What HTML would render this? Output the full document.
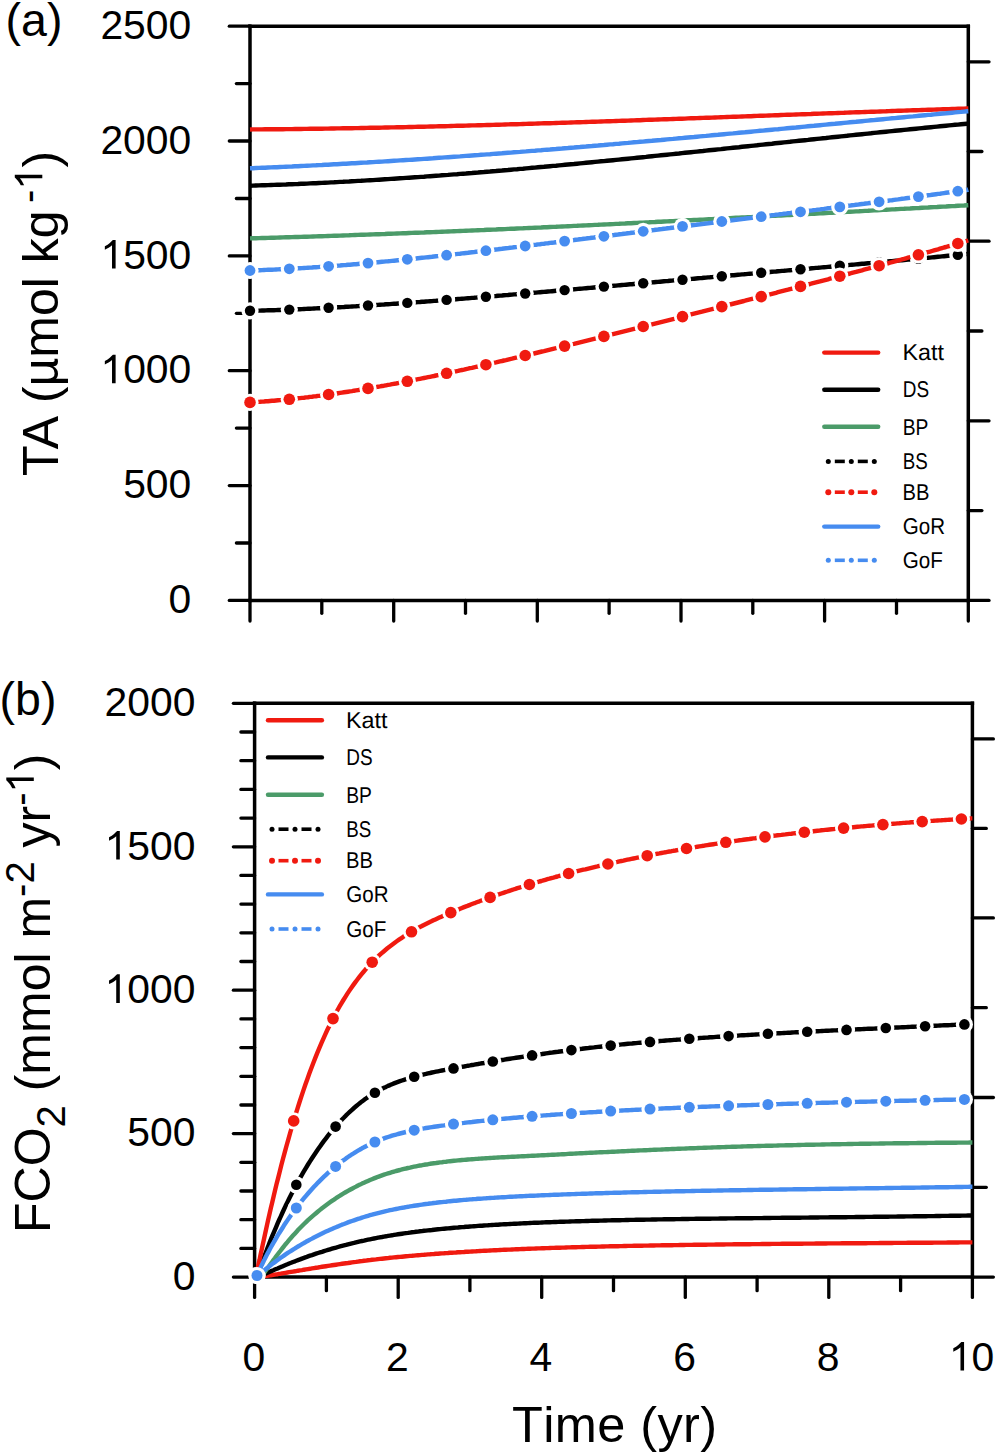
<!DOCTYPE html>
<html><head><meta charset="utf-8"><style>
html,body{margin:0;padding:0;background:#fff;}
svg{display:block;}
text{font-family:"Liberation Sans", sans-serif;fill:#000;font-kerning:none;}
</style></head><body>
<svg width="1000" height="1456" viewBox="0 0 1000 1456">
<rect width="1000" height="1456" fill="#fff"/>
<line x1="250" y1="26.2" x2="968.3" y2="26.2" stroke="#000" stroke-width="3.5" stroke-linecap="square"/>
<line x1="250" y1="26.2" x2="250" y2="600.4" stroke="#000" stroke-width="3.5" stroke-linecap="square"/>
<line x1="968.3" y1="26.2" x2="968.3" y2="600.4" stroke="#000" stroke-width="3.5" stroke-linecap="square"/>
<line x1="250" y1="600.4" x2="968.3" y2="600.4" stroke="#000" stroke-width="3.5" stroke-linecap="square"/>
<line x1="229.3" y1="600.4" x2="250" y2="600.4" stroke="#000" stroke-width="3.3" stroke-linecap="round"/>
<line x1="236.4" y1="543" x2="250" y2="543" stroke="#000" stroke-width="3.3" stroke-linecap="round"/>
<line x1="229.3" y1="485.6" x2="250" y2="485.6" stroke="#000" stroke-width="3.3" stroke-linecap="round"/>
<line x1="236.4" y1="428.1" x2="250" y2="428.1" stroke="#000" stroke-width="3.3" stroke-linecap="round"/>
<line x1="229.3" y1="370.7" x2="250" y2="370.7" stroke="#000" stroke-width="3.3" stroke-linecap="round"/>
<line x1="236.4" y1="313.3" x2="250" y2="313.3" stroke="#000" stroke-width="3.3" stroke-linecap="round"/>
<line x1="229.3" y1="255.9" x2="250" y2="255.9" stroke="#000" stroke-width="3.3" stroke-linecap="round"/>
<line x1="236.4" y1="198.5" x2="250" y2="198.5" stroke="#000" stroke-width="3.3" stroke-linecap="round"/>
<line x1="229.3" y1="141" x2="250" y2="141" stroke="#000" stroke-width="3.3" stroke-linecap="round"/>
<line x1="236.4" y1="83.6" x2="250" y2="83.6" stroke="#000" stroke-width="3.3" stroke-linecap="round"/>
<line x1="229.3" y1="26.2" x2="250" y2="26.2" stroke="#000" stroke-width="3.3" stroke-linecap="round"/>
<line x1="250" y1="600.4" x2="250" y2="621.1" stroke="#000" stroke-width="3.3" stroke-linecap="round"/>
<line x1="321.8" y1="600.4" x2="321.8" y2="613.3" stroke="#000" stroke-width="3.3" stroke-linecap="round"/>
<line x1="393.7" y1="600.4" x2="393.7" y2="621.1" stroke="#000" stroke-width="3.3" stroke-linecap="round"/>
<line x1="465.5" y1="600.4" x2="465.5" y2="613.3" stroke="#000" stroke-width="3.3" stroke-linecap="round"/>
<line x1="537.3" y1="600.4" x2="537.3" y2="621.1" stroke="#000" stroke-width="3.3" stroke-linecap="round"/>
<line x1="609.1" y1="600.4" x2="609.1" y2="613.3" stroke="#000" stroke-width="3.3" stroke-linecap="round"/>
<line x1="681" y1="600.4" x2="681" y2="621.1" stroke="#000" stroke-width="3.3" stroke-linecap="round"/>
<line x1="752.8" y1="600.4" x2="752.8" y2="613.3" stroke="#000" stroke-width="3.3" stroke-linecap="round"/>
<line x1="824.6" y1="600.4" x2="824.6" y2="621.1" stroke="#000" stroke-width="3.3" stroke-linecap="round"/>
<line x1="896.5" y1="600.4" x2="896.5" y2="613.3" stroke="#000" stroke-width="3.3" stroke-linecap="round"/>
<line x1="968.3" y1="600.4" x2="968.3" y2="621.1" stroke="#000" stroke-width="3.3" stroke-linecap="round"/>
<line x1="968.3" y1="600.4" x2="989" y2="600.4" stroke="#000" stroke-width="3.3" stroke-linecap="round"/>
<line x1="968.3" y1="510.6" x2="981.9" y2="510.6" stroke="#000" stroke-width="3.3" stroke-linecap="round"/>
<line x1="968.3" y1="420.8" x2="989" y2="420.8" stroke="#000" stroke-width="3.3" stroke-linecap="round"/>
<line x1="968.3" y1="331" x2="981.9" y2="331" stroke="#000" stroke-width="3.3" stroke-linecap="round"/>
<line x1="968.3" y1="241.2" x2="989" y2="241.2" stroke="#000" stroke-width="3.3" stroke-linecap="round"/>
<line x1="968.3" y1="151.5" x2="981.9" y2="151.5" stroke="#000" stroke-width="3.3" stroke-linecap="round"/>
<line x1="968.3" y1="61.8" x2="989" y2="61.8" stroke="#000" stroke-width="3.3" stroke-linecap="round"/>
<g transform="translate(191.3 613) scale(0.985 1)">
<text xml:space="preserve" x="-23.1" y="0" font-size="41.5">0</text>
</g>
<g transform="translate(191.3 498.2) scale(0.985 1)">
<text xml:space="preserve" x="-69.2" y="0" font-size="41.5">500</text>
</g>
<g transform="translate(191.3 383.3) scale(0.985 1)">
<path d="M763 0L583 0L583 1147Q518 1085 412.5 1023Q307 961 223 930L223 1104Q374 1175 472.5 1263Q571 1351 627 1409L763 1409Z" transform="translate(-92.3 0) scale(0.02026 -0.02026)"/>
<text xml:space="preserve" x="-69.2" y="0" font-size="41.5">000</text>
</g>
<g transform="translate(191.3 268.5) scale(0.985 1)">
<path d="M763 0L583 0L583 1147Q518 1085 412.5 1023Q307 961 223 930L223 1104Q374 1175 472.5 1263Q571 1351 627 1409L763 1409Z" transform="translate(-92.3 0) scale(0.02026 -0.02026)"/>
<text xml:space="preserve" x="-69.2" y="0" font-size="41.5">500</text>
</g>
<g transform="translate(191.3 153.6) scale(0.985 1)">
<text xml:space="preserve" x="-92.3" y="0" font-size="41.5">2000</text>
</g>
<g transform="translate(191.3 38.8) scale(0.985 1)">
<text xml:space="preserve" x="-92.3" y="0" font-size="41.5">2500</text>
</g>
<path d="M250 129.5L253 129.4L256 129.4L259 129.4L262 129.4L265 129.3L268 129.3L271 129.3L274 129.3L277 129.2L280 129.2L283 129.2L286 129.1L289 129.1L292 129.1L295 129L298 129L301 129L304 128.9L307 128.9L310 128.8L313 128.8L316 128.8L319 128.7L322 128.7L325 128.6L328 128.6L331 128.5L334 128.5L337 128.4L340 128.4L343 128.3L346 128.3L349 128.2L352 128.2L355 128.1L358 128.1L361 128L364 128L367 127.9L370 127.8L373 127.8L376 127.7L379 127.7L382 127.6L385 127.5L388 127.5L391 127.4L394 127.4L397 127.3L400 127.2L403 127.2L406 127.1L409 127L412 127L415 126.9L418 126.8L421 126.7L424 126.7L427 126.6L430 126.5L433 126.5L436 126.4L439 126.3L442 126.2L445 126.2L448 126.1L451 126L454 125.9L457 125.8L460 125.8L463 125.7L466 125.6L469 125.5L472 125.4L475 125.4L478 125.3L481 125.2L484 125.1L487 125L490 125L493 124.9L496 124.8L499 124.7L502 124.6L505 124.5L508 124.4L511 124.3L514 124.3L517 124.2L520 124.1L523 124L526 123.9L529 123.8L532 123.7L535 123.6L538 123.5L541 123.4L544 123.3L547 123.2L550 123.2L553 123.1L556 123L559 122.9L562 122.8L565 122.7L568 122.6L571 122.5L574 122.4L577 122.3L580 122.2L583 122.1L586 122L589 121.9L592 121.8L595 121.7L598 121.6L601 121.5L604 121.4L607 121.3L610 121.2L613 121.1L616 121L619 120.9L622 120.8L625 120.7L628 120.6L631 120.5L634 120.4L637 120.3L640 120.2L643 120L646 119.9L649 119.8L652 119.7L655 119.6L658 119.5L661 119.4L664 119.3L667 119.2L670 119.1L673 119L676 118.9L679 118.8L682 118.7L685 118.6L688 118.4L691 118.3L694 118.2L697 118.1L700 118L703 117.9L706 117.8L709 117.7L712 117.6L715 117.5L718 117.4L721 117.2L724 117.1L727 117L730 116.9L733 116.8L736 116.7L739 116.6L742 116.5L745 116.4L748 116.3L751 116.2L754 116L757 115.9L760 115.8L763 115.7L766 115.6L769 115.5L772 115.4L775 115.3L778 115.2L781 115L784 114.9L787 114.8L790 114.7L793 114.6L796 114.5L799 114.4L802 114.3L805 114.2L808 114.1L811 114L814 113.8L817 113.7L820 113.6L823 113.5L826 113.4L829 113.3L832 113.2L835 113.1L838 113L841 112.9L844 112.8L847 112.6L850 112.5L853 112.4L856 112.3L859 112.2L862 112.1L865 112L868 111.9L871 111.8L874 111.7L877 111.6L880 111.5L883 111.4L886 111.3L889 111.1L892 111L895 110.9L898 110.8L901 110.7L904 110.6L907 110.5L910 110.4L913 110.3L916 110.2L919 110.1L922 110L925 109.9L928 109.8L931 109.7L934 109.6L937 109.5L940 109.4L943 109.3L946 109.2L949 109.1L952 109L955 108.9L958 108.8L961 108.7L964 108.6L967 108.5L968.3 108.5" fill="none" stroke="#F01A10" stroke-width="4.4" stroke-linejoin="round" stroke-linecap="butt"/>
<path d="M250 185.7L253 185.6L256 185.5L259 185.4L262 185.3L265 185.2L268 185.1L271 185L274 184.9L277 184.8L280 184.7L283 184.6L286 184.5L289 184.3L292 184.2L295 184.1L298 184L301 183.8L304 183.7L307 183.6L310 183.4L313 183.3L316 183.2L319 183L322 182.9L325 182.7L328 182.6L331 182.4L334 182.3L337 182.1L340 181.9L343 181.8L346 181.6L349 181.5L352 181.3L355 181.1L358 180.9L361 180.8L364 180.6L367 180.4L370 180.2L373 180.1L376 179.9L379 179.7L382 179.5L385 179.3L388 179.1L391 178.9L394 178.7L397 178.5L400 178.3L403 178.1L406 177.9L409 177.7L412 177.5L415 177.3L418 177.1L421 176.9L424 176.7L427 176.4L430 176.2L433 176L436 175.8L439 175.6L442 175.3L445 175.1L448 174.9L451 174.6L454 174.4L457 174.2L460 173.9L463 173.7L466 173.5L469 173.2L472 173L475 172.7L478 172.5L481 172.2L484 172L487 171.7L490 171.5L493 171.2L496 171L499 170.7L502 170.5L505 170.2L508 170L511 169.7L514 169.4L517 169.2L520 168.9L523 168.7L526 168.4L529 168.1L532 167.8L535 167.6L538 167.3L541 167L544 166.8L547 166.5L550 166.2L553 165.9L556 165.7L559 165.4L562 165.1L565 164.8L568 164.5L571 164.2L574 164L577 163.7L580 163.4L583 163.1L586 162.8L589 162.5L592 162.2L595 161.9L598 161.6L601 161.3L604 161.1L607 160.8L610 160.5L613 160.2L616 159.9L619 159.6L622 159.3L625 159L628 158.7L631 158.4L634 158.1L637 157.8L640 157.5L643 157.2L646 156.9L649 156.5L652 156.2L655 155.9L658 155.6L661 155.3L664 155L667 154.7L670 154.4L673 154.1L676 153.8L679 153.5L682 153.1L685 152.8L688 152.5L691 152.2L694 151.9L697 151.6L700 151.3L703 151L706 150.6L709 150.3L712 150L715 149.7L718 149.4L721 149.1L724 148.7L727 148.4L730 148.1L733 147.8L736 147.5L739 147.2L742 146.8L745 146.5L748 146.2L751 145.9L754 145.6L757 145.3L760 144.9L763 144.6L766 144.3L769 144L772 143.7L775 143.3L778 143L781 142.7L784 142.4L787 142.1L790 141.8L793 141.4L796 141.1L799 140.8L802 140.5L805 140.2L808 139.9L811 139.5L814 139.2L817 138.9L820 138.6L823 138.3L826 138L829 137.6L832 137.3L835 137L838 136.7L841 136.4L844 136.1L847 135.8L850 135.4L853 135.1L856 134.8L859 134.5L862 134.2L865 133.9L868 133.6L871 133.3L874 132.9L877 132.6L880 132.3L883 132L886 131.7L889 131.4L892 131.1L895 130.8L898 130.5L901 130.2L904 129.9L907 129.6L910 129.3L913 129L916 128.7L919 128.4L922 128.1L925 127.8L928 127.5L931 127.2L934 126.9L937 126.6L940 126.3L943 126L946 125.7L949 125.4L952 125.1L955 124.8L958 124.6L961 124.3L964 124L967 123.7L968.3 123.6" fill="none" stroke="#000000" stroke-width="4.4" stroke-linejoin="round" stroke-linecap="butt"/>
<path d="M250 238.4L253 238.3L256 238.2L259 238.1L262 238L265 238L268 237.9L271 237.8L274 237.7L277 237.6L280 237.5L283 237.4L286 237.3L289 237.2L292 237.1L295 237L298 237L301 236.9L304 236.8L307 236.7L310 236.6L313 236.5L316 236.4L319 236.3L322 236.2L325 236.1L328 236L331 235.9L334 235.8L337 235.7L340 235.6L343 235.5L346 235.4L349 235.3L352 235.1L355 235L358 234.9L361 234.8L364 234.7L367 234.6L370 234.5L373 234.4L376 234.3L379 234.2L382 234.1L385 234L388 233.8L391 233.7L394 233.6L397 233.5L400 233.4L403 233.3L406 233.2L409 233L412 232.9L415 232.8L418 232.7L421 232.6L424 232.5L427 232.3L430 232.2L433 232.1L436 232L439 231.9L442 231.7L445 231.6L448 231.5L451 231.4L454 231.2L457 231.1L460 231L463 230.9L466 230.7L469 230.6L472 230.5L475 230.4L478 230.2L481 230.1L484 230L487 229.8L490 229.7L493 229.6L496 229.5L499 229.3L502 229.2L505 229.1L508 228.9L511 228.8L514 228.7L517 228.5L520 228.4L523 228.3L526 228.1L529 228L532 227.9L535 227.7L538 227.6L541 227.5L544 227.3L547 227.2L550 227L553 226.9L556 226.8L559 226.6L562 226.5L565 226.4L568 226.2L571 226.1L574 225.9L577 225.8L580 225.6L583 225.5L586 225.4L589 225.2L592 225.1L595 224.9L598 224.8L601 224.6L604 224.5L607 224.4L610 224.2L613 224.1L616 223.9L619 223.8L622 223.6L625 223.5L628 223.3L631 223.2L634 223L637 222.9L640 222.7L643 222.6L646 222.4L649 222.3L652 222.1L655 222L658 221.8L661 221.7L664 221.5L667 221.4L670 221.2L673 221.1L676 220.9L679 220.8L682 220.6L685 220.5L688 220.3L691 220.2L694 220L697 219.9L700 219.7L703 219.6L706 219.4L709 219.2L712 219.1L715 218.9L718 218.8L721 218.6L724 218.5L727 218.3L730 218.2L733 218L736 217.8L739 217.7L742 217.5L745 217.4L748 217.2L751 217.1L754 216.9L757 216.7L760 216.6L763 216.4L766 216.3L769 216.1L772 215.9L775 215.8L778 215.6L781 215.5L784 215.3L787 215.1L790 215L793 214.8L796 214.7L799 214.5L802 214.3L805 214.2L808 214L811 213.9L814 213.7L817 213.5L820 213.4L823 213.2L826 213L829 212.9L832 212.7L835 212.6L838 212.4L841 212.2L844 212.1L847 211.9L850 211.7L853 211.6L856 211.4L859 211.3L862 211.1L865 210.9L868 210.8L871 210.6L874 210.4L877 210.3L880 210.1L883 209.9L886 209.8L889 209.6L892 209.4L895 209.3L898 209.1L901 208.9L904 208.8L907 208.6L910 208.5L913 208.3L916 208.1L919 208L922 207.8L925 207.6L928 207.5L931 207.3L934 207.1L937 207L940 206.8L943 206.6L946 206.5L949 206.3L952 206.1L955 206L958 205.8L961 205.6L964 205.5L967 205.3L968.3 205.2" fill="none" stroke="#4B9B69" stroke-width="4.4" stroke-linejoin="round" stroke-linecap="butt"/>
<path d="M250 310.8L252 310.8L254 310.7L256 310.7L258 310.6L260 310.6L262 310.5L264 310.5L266 310.4L268 310.3L270 310.3L272 310.2L274 310.2L276 310.1L278 310L280 310L282 309.9L284 309.8L286 309.7L288 309.7L290 309.6L292 309.5L294 309.4L296 309.3L298 309.2L300 309.2L302 309.1L304 309L306 308.9L308 308.8L310 308.7L312 308.6L314 308.5L316 308.4L318 308.3L320 308.2L322 308.1L324 308L326 307.9L328 307.8L330 307.7L332 307.6L334 307.5L336 307.4L338 307.3L340 307.2L342 307.1L344 307L346 306.8L348 306.7L350 306.6L352 306.5L354 306.4L356 306.3L358 306.1L360 306L362 305.9L364 305.8L366 305.6L368 305.5L370 305.4L372 305.3L374 305.1L376 305L378 304.9L380 304.7L382 304.6L384 304.5L386 304.3L388 304.2L390 304.1L392 303.9L394 303.8L396 303.7L398 303.5L400 303.4L402 303.2L404 303.1L406 303L408 302.8L410 302.7L412 302.5L414 302.4L416 302.2L418 302.1L420 302L422 301.8L424 301.7L426 301.5L428 301.4L430 301.2L432 301.1L434 300.9L436 300.8L438 300.6L440 300.4L442 300.3L444 300.1L446 300L448 299.8L450 299.7L452 299.5L454 299.4L456 299.2L458 299L460 298.9L462 298.7L464 298.6L466 298.4L468 298.2L470 298.1L472 297.9L474 297.8L476 297.6L478 297.4L480 297.3L482 297.1L484 296.9L486 296.8L488 296.6L490 296.5L492 296.3L494 296.1L496 296L498 295.8L500 295.6L502 295.5L504 295.3L506 295.1L508 295L510 294.8L512 294.6L514 294.4L516 294.3L518 294.1L520 293.9L522 293.8L524 293.6L526 293.4L528 293.3L530 293.1L532 292.9L534 292.7L536 292.6L538 292.4L540 292.2L542 292L544 291.9L546 291.7L548 291.5L550 291.4L552 291.2L554 291L556 290.8L558 290.7L560 290.5L562 290.3L564 290.1L566 290L568 289.8L570 289.6L572 289.4L574 289.3L576 289.1L578 288.9L580 288.7L582 288.6L584 288.4L586 288.2L588 288L590 287.9L592 287.7L594 287.5L596 287.3L598 287.2L600 287L602 286.8L604 286.6L606 286.5L608 286.3L610 286.1L612 285.9L614 285.7L616 285.6L618 285.4L620 285.2L622 285L624 284.9L626 284.7L628 284.5L630 284.3L632 284.2L634 284L636 283.8L638 283.6L640 283.4L642 283.3L644 283.1L646 282.9L648 282.7L650 282.6L652 282.4L654 282.2L656 282L658 281.9L660 281.7L662 281.5L664 281.3L666 281.1L668 281L670 280.8L672 280.6L674 280.4L676 280.3L678 280.1L680 279.9L682 279.7L684 279.6L686 279.4L688 279.2L690 279L692 278.9L694 278.7L696 278.5L698 278.3L700 278.1L702 278L704 277.8L706 277.6L708 277.4L710 277.3L712 277.1L714 276.9L716 276.7L718 276.6L720 276.4L722 276.2L724 276L726 275.9L728 275.7L730 275.5L732 275.3L734 275.2L736 275L738 274.8L740 274.6L742 274.4L744 274.3L746 274.1L748 273.9L750 273.7L752 273.6L754 273.4L756 273.2L758 273L760 272.9L762 272.7L764 272.5L766 272.3L768 272.2L770 272L772 271.8L774 271.6L776 271.5L778 271.3L780 271.1L782 270.9L784 270.8L786 270.6L788 270.4L790 270.2L792 270.1L794 269.9L796 269.7L798 269.5L800 269.3L802 269.2L804 269L806 268.8L808 268.6L810 268.5L812 268.3L814 268.1L816 267.9L818 267.8L820 267.6L822 267.4L824 267.2L826 267.1L828 266.9L830 266.7L832 266.5L834 266.3L836 266.2L838 266L840 265.8L842 265.6L844 265.5L846 265.3L848 265.1L850 264.9L852 264.7L854 264.6L856 264.4L858 264.2L860 264L862 263.8L864 263.7L866 263.5L868 263.3L870 263.1L872 262.9L874 262.8L876 262.6L878 262.4L880 262.2L882 262L884 261.8L886 261.7L888 261.5L890 261.3L892 261.1L894 260.9L896 260.7L898 260.6L900 260.4L902 260.2L904 260L906 259.8L908 259.6L910 259.5L912 259.3L914 259.1L916 258.9L918 258.7L920 258.5L922 258.3L924 258.1L926 257.9L928 257.8L930 257.6L932 257.4L934 257.2L936 257L938 256.8L940 256.6L942 256.4L944 256.2L946 256L948 255.8L950 255.6L952 255.4L954 255.3L956 255.1L958 254.9L960 254.7L962 254.5L964 254.3L966 254.1L968 253.9L968.3 253.8" fill="none" stroke="#000000" stroke-width="4.4" stroke-linejoin="round" stroke-linecap="butt"/>
<circle cx="250" cy="310.8" r="8.6" fill="#fff"/>
<circle cx="250" cy="310.8" r="5.2" fill="#000000"/>
<circle cx="289.3" cy="309.6" r="8.6" fill="#fff"/>
<circle cx="289.3" cy="309.6" r="5.2" fill="#000000"/>
<circle cx="328.6" cy="307.8" r="8.6" fill="#fff"/>
<circle cx="328.6" cy="307.8" r="5.2" fill="#000000"/>
<circle cx="368" cy="305.5" r="8.6" fill="#fff"/>
<circle cx="368" cy="305.5" r="5.2" fill="#000000"/>
<circle cx="407.3" cy="302.9" r="8.6" fill="#fff"/>
<circle cx="407.3" cy="302.9" r="5.2" fill="#000000"/>
<circle cx="446.6" cy="299.9" r="8.6" fill="#fff"/>
<circle cx="446.6" cy="299.9" r="5.2" fill="#000000"/>
<circle cx="485.9" cy="296.8" r="8.6" fill="#fff"/>
<circle cx="485.9" cy="296.8" r="5.2" fill="#000000"/>
<circle cx="525.2" cy="293.5" r="8.6" fill="#fff"/>
<circle cx="525.2" cy="293.5" r="5.2" fill="#000000"/>
<circle cx="564.6" cy="290.1" r="8.6" fill="#fff"/>
<circle cx="564.6" cy="290.1" r="5.2" fill="#000000"/>
<circle cx="603.9" cy="286.6" r="8.6" fill="#fff"/>
<circle cx="603.9" cy="286.6" r="5.2" fill="#000000"/>
<circle cx="643.2" cy="283.2" r="8.6" fill="#fff"/>
<circle cx="643.2" cy="283.2" r="5.2" fill="#000000"/>
<circle cx="682.5" cy="279.7" r="8.6" fill="#fff"/>
<circle cx="682.5" cy="279.7" r="5.2" fill="#000000"/>
<circle cx="721.8" cy="276.2" r="8.6" fill="#fff"/>
<circle cx="721.8" cy="276.2" r="5.2" fill="#000000"/>
<circle cx="761.2" cy="272.8" r="8.6" fill="#fff"/>
<circle cx="761.2" cy="272.8" r="5.2" fill="#000000"/>
<circle cx="800.5" cy="269.3" r="8.6" fill="#fff"/>
<circle cx="800.5" cy="269.3" r="5.2" fill="#000000"/>
<circle cx="839.8" cy="265.8" r="8.6" fill="#fff"/>
<circle cx="839.8" cy="265.8" r="5.2" fill="#000000"/>
<circle cx="879.1" cy="262.3" r="8.6" fill="#fff"/>
<circle cx="879.1" cy="262.3" r="5.2" fill="#000000"/>
<circle cx="918.4" cy="258.7" r="8.6" fill="#fff"/>
<circle cx="918.4" cy="258.7" r="5.2" fill="#000000"/>
<circle cx="957.8" cy="254.9" r="8.6" fill="#fff"/>
<circle cx="957.8" cy="254.9" r="5.2" fill="#000000"/>
<path d="M250 402.4L252 402.3L254 402.1L256 402L258 401.9L260 401.8L262 401.6L264 401.5L266 401.3L268 401.2L270 401L272 400.8L274 400.7L276 400.5L278 400.3L280 400.1L282 400L284 399.8L286 399.6L288 399.4L290 399.2L292 399L294 398.8L296 398.6L298 398.3L300 398.1L302 397.9L304 397.7L306 397.4L308 397.2L310 396.9L312 396.7L314 396.4L316 396.2L318 395.9L320 395.7L322 395.4L324 395.1L326 394.9L328 394.6L330 394.3L332 394L334 393.8L336 393.5L338 393.2L340 392.9L342 392.6L344 392.3L346 392L348 391.7L350 391.4L352 391.1L354 390.7L356 390.4L358 390.1L360 389.8L362 389.4L364 389.1L366 388.8L368 388.4L370 388.1L372 387.8L374 387.4L376 387.1L378 386.7L380 386.4L382 386L384 385.7L386 385.3L388 384.9L390 384.6L392 384.2L394 383.8L396 383.5L398 383.1L400 382.7L402 382.3L404 381.9L406 381.6L408 381.2L410 380.8L412 380.4L414 380L416 379.6L418 379.2L420 378.8L422 378.4L424 378L426 377.6L428 377.2L430 376.8L432 376.4L434 376L436 375.5L438 375.1L440 374.7L442 374.3L444 373.9L446 373.4L448 373L450 372.6L452 372.2L454 371.7L456 371.3L458 370.9L460 370.4L462 370L464 369.6L466 369.1L468 368.7L470 368.2L472 367.8L474 367.3L476 366.9L478 366.5L480 366L482 365.6L484 365.1L486 364.6L488 364.2L490 363.7L492 363.3L494 362.8L496 362.4L498 361.9L500 361.4L502 361L504 360.5L506 360.1L508 359.6L510 359.1L512 358.7L514 358.2L516 357.7L518 357.3L520 356.8L522 356.3L524 355.8L526 355.4L528 354.9L530 354.4L532 353.9L534 353.5L536 353L538 352.5L540 352L542 351.5L544 351.1L546 350.6L548 350.1L550 349.6L552 349.1L554 348.6L556 348.2L558 347.7L560 347.2L562 346.7L564 346.2L566 345.7L568 345.2L570 344.7L572 344.2L574 343.8L576 343.3L578 342.8L580 342.3L582 341.8L584 341.3L586 340.8L588 340.3L590 339.8L592 339.3L594 338.8L596 338.3L598 337.8L600 337.3L602 336.8L604 336.3L606 335.8L608 335.3L610 334.8L612 334.3L614 333.8L616 333.3L618 332.8L620 332.3L622 331.8L624 331.3L626 330.8L628 330.3L630 329.8L632 329.3L634 328.8L636 328.3L638 327.8L640 327.3L642 326.8L644 326.3L646 325.8L648 325.3L650 324.8L652 324.3L654 323.8L656 323.3L658 322.8L660 322.3L662 321.8L664 321.3L666 320.8L668 320.3L670 319.8L672 319.3L674 318.8L676 318.2L678 317.7L680 317.2L682 316.7L684 316.2L686 315.7L688 315.2L690 314.7L692 314.2L694 313.7L696 313.2L698 312.7L700 312.2L702 311.7L704 311.1L706 310.6L708 310.1L710 309.6L712 309.1L714 308.6L716 308.1L718 307.6L720 307.1L722 306.6L724 306.1L726 305.6L728 305L730 304.5L732 304L734 303.5L736 303L738 302.5L740 302L742 301.5L744 301L746 300.4L748 299.9L750 299.4L752 298.9L754 298.4L756 297.9L758 297.4L760 296.9L762 296.3L764 295.8L766 295.3L768 294.8L770 294.3L772 293.8L774 293.3L776 292.8L778 292.2L780 291.7L782 291.2L784 290.7L786 290.2L788 289.7L790 289.1L792 288.6L794 288.1L796 287.6L798 287.1L800 286.6L802 286L804 285.5L806 285L808 284.5L810 284L812 283.4L814 282.9L816 282.4L818 281.9L820 281.4L822 280.8L824 280.3L826 279.8L828 279.3L830 278.7L832 278.2L834 277.7L836 277.2L838 276.6L840 276.1L842 275.6L844 275.1L846 274.5L848 274L850 273.5L852 272.9L854 272.4L856 271.9L858 271.3L860 270.8L862 270.3L864 269.7L866 269.2L868 268.7L870 268.1L872 267.6L874 267L876 266.5L878 266L880 265.4L882 264.9L884 264.3L886 263.8L888 263.3L890 262.7L892 262.2L894 261.6L896 261.1L898 260.5L900 260L902 259.4L904 258.9L906 258.3L908 257.7L910 257.2L912 256.6L914 256.1L916 255.5L918 255L920 254.4L922 253.8L924 253.3L926 252.7L928 252.1L930 251.6L932 251L934 250.4L936 249.8L938 249.3L940 248.7L942 248.1L944 247.5L946 247L948 246.4L950 245.8L952 245.2L954 244.6L956 244L958 243.4L960 242.9L962 242.3L964 241.7L966 241.1L968 240.5L968.3 240.4" fill="none" stroke="#F01A10" stroke-width="4.4" stroke-linejoin="round" stroke-linecap="butt"/>
<circle cx="250" cy="402.4" r="8.6" fill="#fff"/>
<circle cx="250" cy="402.4" r="5.8" fill="#F01A10"/>
<circle cx="289.3" cy="399.3" r="8.6" fill="#fff"/>
<circle cx="289.3" cy="399.3" r="5.8" fill="#F01A10"/>
<circle cx="328.6" cy="394.5" r="8.6" fill="#fff"/>
<circle cx="328.6" cy="394.5" r="5.8" fill="#F01A10"/>
<circle cx="368" cy="388.4" r="8.6" fill="#fff"/>
<circle cx="368" cy="388.4" r="5.8" fill="#F01A10"/>
<circle cx="407.3" cy="381.3" r="8.6" fill="#fff"/>
<circle cx="407.3" cy="381.3" r="5.8" fill="#F01A10"/>
<circle cx="446.6" cy="373.3" r="8.6" fill="#fff"/>
<circle cx="446.6" cy="373.3" r="5.8" fill="#F01A10"/>
<circle cx="485.9" cy="364.7" r="8.6" fill="#fff"/>
<circle cx="485.9" cy="364.7" r="5.8" fill="#F01A10"/>
<circle cx="525.2" cy="355.5" r="8.6" fill="#fff"/>
<circle cx="525.2" cy="355.5" r="5.8" fill="#F01A10"/>
<circle cx="564.6" cy="346.1" r="8.6" fill="#fff"/>
<circle cx="564.6" cy="346.1" r="5.8" fill="#F01A10"/>
<circle cx="603.9" cy="336.4" r="8.6" fill="#fff"/>
<circle cx="603.9" cy="336.4" r="5.8" fill="#F01A10"/>
<circle cx="643.2" cy="326.5" r="8.6" fill="#fff"/>
<circle cx="643.2" cy="326.5" r="5.8" fill="#F01A10"/>
<circle cx="682.5" cy="316.6" r="8.6" fill="#fff"/>
<circle cx="682.5" cy="316.6" r="5.8" fill="#F01A10"/>
<circle cx="721.8" cy="306.6" r="8.6" fill="#fff"/>
<circle cx="721.8" cy="306.6" r="5.8" fill="#F01A10"/>
<circle cx="761.2" cy="296.6" r="8.6" fill="#fff"/>
<circle cx="761.2" cy="296.6" r="5.8" fill="#F01A10"/>
<circle cx="800.5" cy="286.4" r="8.6" fill="#fff"/>
<circle cx="800.5" cy="286.4" r="5.8" fill="#F01A10"/>
<circle cx="839.8" cy="276.2" r="8.6" fill="#fff"/>
<circle cx="839.8" cy="276.2" r="5.8" fill="#F01A10"/>
<circle cx="879.1" cy="265.7" r="8.6" fill="#fff"/>
<circle cx="879.1" cy="265.7" r="5.8" fill="#F01A10"/>
<circle cx="918.4" cy="254.8" r="8.6" fill="#fff"/>
<circle cx="918.4" cy="254.8" r="5.8" fill="#F01A10"/>
<circle cx="957.8" cy="243.5" r="8.6" fill="#fff"/>
<circle cx="957.8" cy="243.5" r="5.8" fill="#F01A10"/>
<path d="M250 168.3L253 168.2L256 168L259 167.9L262 167.8L265 167.7L268 167.5L271 167.4L274 167.3L277 167.2L280 167L283 166.9L286 166.7L289 166.6L292 166.5L295 166.3L298 166.2L301 166L304 165.9L307 165.7L310 165.6L313 165.4L316 165.3L319 165.1L322 165L325 164.8L328 164.7L331 164.5L334 164.3L337 164.2L340 164L343 163.8L346 163.7L349 163.5L352 163.3L355 163.2L358 163L361 162.8L364 162.6L367 162.5L370 162.3L373 162.1L376 161.9L379 161.7L382 161.6L385 161.4L388 161.2L391 161L394 160.8L397 160.6L400 160.4L403 160.2L406 160L409 159.9L412 159.7L415 159.5L418 159.3L421 159.1L424 158.9L427 158.7L430 158.5L433 158.3L436 158L439 157.8L442 157.6L445 157.4L448 157.2L451 157L454 156.8L457 156.6L460 156.4L463 156.1L466 155.9L469 155.7L472 155.5L475 155.3L478 155.1L481 154.8L484 154.6L487 154.4L490 154.2L493 153.9L496 153.7L499 153.5L502 153.3L505 153L508 152.8L511 152.6L514 152.3L517 152.1L520 151.9L523 151.6L526 151.4L529 151.1L532 150.9L535 150.7L538 150.4L541 150.2L544 149.9L547 149.7L550 149.5L553 149.2L556 149L559 148.7L562 148.5L565 148.2L568 148L571 147.7L574 147.5L577 147.2L580 147L583 146.7L586 146.5L589 146.2L592 146L595 145.7L598 145.5L601 145.2L604 145L607 144.7L610 144.4L613 144.2L616 143.9L619 143.7L622 143.4L625 143.1L628 142.9L631 142.6L634 142.3L637 142.1L640 141.8L643 141.6L646 141.3L649 141L652 140.8L655 140.5L658 140.2L661 140L664 139.7L667 139.4L670 139.1L673 138.9L676 138.6L679 138.3L682 138.1L685 137.8L688 137.5L691 137.2L694 137L697 136.7L700 136.4L703 136.1L706 135.9L709 135.6L712 135.3L715 135L718 134.8L721 134.5L724 134.2L727 133.9L730 133.6L733 133.4L736 133.1L739 132.8L742 132.5L745 132.3L748 132L751 131.7L754 131.4L757 131.1L760 130.8L763 130.6L766 130.3L769 130L772 129.7L775 129.4L778 129.2L781 128.9L784 128.6L787 128.3L790 128L793 127.7L796 127.5L799 127.2L802 126.9L805 126.6L808 126.3L811 126L814 125.8L817 125.5L820 125.2L823 124.9L826 124.6L829 124.3L832 124L835 123.8L838 123.5L841 123.2L844 122.9L847 122.6L850 122.3L853 122L856 121.8L859 121.5L862 121.2L865 120.9L868 120.6L871 120.3L874 120.1L877 119.8L880 119.5L883 119.2L886 118.9L889 118.6L892 118.3L895 118.1L898 117.8L901 117.5L904 117.2L907 116.9L910 116.6L913 116.4L916 116.1L919 115.8L922 115.5L925 115.2L928 114.9L931 114.7L934 114.4L937 114.1L940 113.8L943 113.5L946 113.3L949 113L952 112.7L955 112.4L958 112.1L961 111.9L964 111.6L967 111.3L968.3 111.2" fill="none" stroke="#468CF0" stroke-width="4.4" stroke-linejoin="round" stroke-linecap="butt"/>
<path d="M250 270.5L252 270.4L254 270.4L256 270.3L258 270.2L260 270.2L262 270.1L264 270L266 269.9L268 269.8L270 269.8L272 269.7L274 269.6L276 269.5L278 269.4L280 269.3L282 269.2L284 269.1L286 269L288 268.9L290 268.8L292 268.7L294 268.6L296 268.5L298 268.3L300 268.2L302 268.1L304 268L306 267.9L308 267.7L310 267.6L312 267.5L314 267.3L316 267.2L318 267.1L320 266.9L322 266.8L324 266.7L326 266.5L328 266.4L330 266.2L332 266.1L334 265.9L336 265.8L338 265.6L340 265.5L342 265.3L344 265.1L346 265L348 264.8L350 264.7L352 264.5L354 264.3L356 264.2L358 264L360 263.8L362 263.6L364 263.5L366 263.3L368 263.1L370 262.9L372 262.7L374 262.6L376 262.4L378 262.2L380 262L382 261.8L384 261.6L386 261.4L388 261.3L390 261.1L392 260.9L394 260.7L396 260.5L398 260.3L400 260.1L402 259.9L404 259.7L406 259.5L408 259.3L410 259.1L412 258.9L414 258.7L416 258.5L418 258.2L420 258L422 257.8L424 257.6L426 257.4L428 257.2L430 257L432 256.8L434 256.5L436 256.3L438 256.1L440 255.9L442 255.7L444 255.5L446 255.2L448 255L450 254.8L452 254.6L454 254.3L456 254.1L458 253.9L460 253.7L462 253.4L464 253.2L466 253L468 252.8L470 252.5L472 252.3L474 252.1L476 251.8L478 251.6L480 251.4L482 251.1L484 250.9L486 250.7L488 250.4L490 250.2L492 250L494 249.7L496 249.5L498 249.3L500 249L502 248.8L504 248.5L506 248.3L508 248.1L510 247.8L512 247.6L514 247.3L516 247.1L518 246.9L520 246.6L522 246.4L524 246.1L526 245.9L528 245.6L530 245.4L532 245.2L534 244.9L536 244.7L538 244.4L540 244.2L542 243.9L544 243.7L546 243.4L548 243.2L550 242.9L552 242.7L554 242.5L556 242.2L558 242L560 241.7L562 241.5L564 241.2L566 241L568 240.7L570 240.5L572 240.2L574 240L576 239.7L578 239.5L580 239.2L582 239L584 238.7L586 238.5L588 238.2L590 238L592 237.7L594 237.5L596 237.2L598 237L600 236.7L602 236.5L604 236.2L606 236L608 235.7L610 235.5L612 235.2L614 235L616 234.7L618 234.5L620 234.2L622 234L624 233.7L626 233.5L628 233.2L630 233L632 232.7L634 232.5L636 232.2L638 232L640 231.7L642 231.5L644 231.2L646 231L648 230.7L650 230.5L652 230.2L654 230L656 229.7L658 229.5L660 229.2L662 229L664 228.7L666 228.5L668 228.2L670 228L672 227.7L674 227.5L676 227.2L678 227L680 226.7L682 226.5L684 226.2L686 226L688 225.7L690 225.5L692 225.2L694 225L696 224.8L698 224.5L700 224.3L702 224L704 223.8L706 223.5L708 223.3L710 223L712 222.8L714 222.5L716 222.3L718 222L720 221.8L722 221.5L724 221.3L726 221L728 220.8L730 220.5L732 220.3L734 220L736 219.8L738 219.5L740 219.3L742 219L744 218.8L746 218.5L748 218.3L750 218.1L752 217.8L754 217.6L756 217.3L758 217.1L760 216.8L762 216.6L764 216.3L766 216.1L768 215.8L770 215.6L772 215.3L774 215.1L776 214.8L778 214.6L780 214.3L782 214.1L784 213.8L786 213.6L788 213.3L790 213.1L792 212.8L794 212.6L796 212.3L798 212.1L800 211.8L802 211.6L804 211.4L806 211.1L808 210.9L810 210.6L812 210.4L814 210.1L816 209.9L818 209.6L820 209.4L822 209.1L824 208.9L826 208.6L828 208.3L830 208.1L832 207.8L834 207.6L836 207.3L838 207.1L840 206.8L842 206.6L844 206.3L846 206.1L848 205.8L850 205.6L852 205.3L854 205.1L856 204.8L858 204.6L860 204.3L862 204L864 203.8L866 203.5L868 203.3L870 203L872 202.8L874 202.5L876 202.2L878 202L880 201.7L882 201.5L884 201.2L886 200.9L888 200.7L890 200.4L892 200.2L894 199.9L896 199.6L898 199.4L900 199.1L902 198.8L904 198.6L906 198.3L908 198L910 197.8L912 197.5L914 197.2L916 197L918 196.7L920 196.4L922 196.1L924 195.9L926 195.6L928 195.3L930 195.1L932 194.8L934 194.5L936 194.2L938 193.9L940 193.7L942 193.4L944 193.1L946 192.8L948 192.5L950 192.3L952 192L954 191.7L956 191.4L958 191.1L960 190.8L962 190.5L964 190.3L966 190L968 189.7L968.3 189.6" fill="none" stroke="#468CF0" stroke-width="4.4" stroke-linejoin="round" stroke-linecap="butt"/>
<circle cx="250" cy="270.5" r="8.6" fill="#fff"/>
<circle cx="250" cy="270.5" r="5.4" fill="#468CF0"/>
<circle cx="289.3" cy="268.8" r="8.6" fill="#fff"/>
<circle cx="289.3" cy="268.8" r="5.4" fill="#468CF0"/>
<circle cx="328.6" cy="266.3" r="8.6" fill="#fff"/>
<circle cx="328.6" cy="266.3" r="5.4" fill="#468CF0"/>
<circle cx="368" cy="263.1" r="8.6" fill="#fff"/>
<circle cx="368" cy="263.1" r="5.4" fill="#468CF0"/>
<circle cx="407.3" cy="259.3" r="8.6" fill="#fff"/>
<circle cx="407.3" cy="259.3" r="5.4" fill="#468CF0"/>
<circle cx="446.6" cy="255.2" r="8.6" fill="#fff"/>
<circle cx="446.6" cy="255.2" r="5.4" fill="#468CF0"/>
<circle cx="485.9" cy="250.7" r="8.6" fill="#fff"/>
<circle cx="485.9" cy="250.7" r="5.4" fill="#468CF0"/>
<circle cx="525.2" cy="246" r="8.6" fill="#fff"/>
<circle cx="525.2" cy="246" r="5.4" fill="#468CF0"/>
<circle cx="564.6" cy="241.1" r="8.6" fill="#fff"/>
<circle cx="564.6" cy="241.1" r="5.4" fill="#468CF0"/>
<circle cx="603.9" cy="236.3" r="8.6" fill="#fff"/>
<circle cx="603.9" cy="236.3" r="5.4" fill="#468CF0"/>
<circle cx="643.2" cy="231.3" r="8.6" fill="#fff"/>
<circle cx="643.2" cy="231.3" r="5.4" fill="#468CF0"/>
<circle cx="682.5" cy="226.4" r="8.6" fill="#fff"/>
<circle cx="682.5" cy="226.4" r="5.4" fill="#468CF0"/>
<circle cx="721.8" cy="221.5" r="8.6" fill="#fff"/>
<circle cx="721.8" cy="221.5" r="5.4" fill="#468CF0"/>
<circle cx="761.2" cy="216.7" r="8.6" fill="#fff"/>
<circle cx="761.2" cy="216.7" r="5.4" fill="#468CF0"/>
<circle cx="800.5" cy="211.8" r="8.6" fill="#fff"/>
<circle cx="800.5" cy="211.8" r="5.4" fill="#468CF0"/>
<circle cx="839.8" cy="206.9" r="8.6" fill="#fff"/>
<circle cx="839.8" cy="206.9" r="5.4" fill="#468CF0"/>
<circle cx="879.1" cy="201.8" r="8.6" fill="#fff"/>
<circle cx="879.1" cy="201.8" r="5.4" fill="#468CF0"/>
<circle cx="918.4" cy="196.6" r="8.6" fill="#fff"/>
<circle cx="918.4" cy="196.6" r="5.4" fill="#468CF0"/>
<circle cx="957.8" cy="191.2" r="8.6" fill="#fff"/>
<circle cx="957.8" cy="191.2" r="5.4" fill="#468CF0"/>
<line x1="254.6" y1="703.3" x2="972.4" y2="703.3" stroke="#000" stroke-width="3.5" stroke-linecap="square"/>
<line x1="254.6" y1="703.3" x2="254.6" y2="1277.1" stroke="#000" stroke-width="3.5" stroke-linecap="square"/>
<line x1="972.4" y1="703.3" x2="972.4" y2="1277.1" stroke="#000" stroke-width="3.5" stroke-linecap="square"/>
<line x1="254.6" y1="1277.1" x2="972.4" y2="1277.1" stroke="#000" stroke-width="3.5" stroke-linecap="square"/>
<line x1="233.4" y1="1277.1" x2="254.6" y2="1277.1" stroke="#000" stroke-width="3.3" stroke-linecap="round"/>
<line x1="240.9" y1="1248.4" x2="254.6" y2="1248.4" stroke="#000" stroke-width="3.3" stroke-linecap="round"/>
<line x1="240.9" y1="1219.7" x2="254.6" y2="1219.7" stroke="#000" stroke-width="3.3" stroke-linecap="round"/>
<line x1="240.9" y1="1191" x2="254.6" y2="1191" stroke="#000" stroke-width="3.3" stroke-linecap="round"/>
<line x1="240.9" y1="1162.3" x2="254.6" y2="1162.3" stroke="#000" stroke-width="3.3" stroke-linecap="round"/>
<line x1="233.4" y1="1133.6" x2="254.6" y2="1133.6" stroke="#000" stroke-width="3.3" stroke-linecap="round"/>
<line x1="240.9" y1="1105" x2="254.6" y2="1105" stroke="#000" stroke-width="3.3" stroke-linecap="round"/>
<line x1="240.9" y1="1076.3" x2="254.6" y2="1076.3" stroke="#000" stroke-width="3.3" stroke-linecap="round"/>
<line x1="240.9" y1="1047.6" x2="254.6" y2="1047.6" stroke="#000" stroke-width="3.3" stroke-linecap="round"/>
<line x1="240.9" y1="1018.9" x2="254.6" y2="1018.9" stroke="#000" stroke-width="3.3" stroke-linecap="round"/>
<line x1="233.4" y1="990.2" x2="254.6" y2="990.2" stroke="#000" stroke-width="3.3" stroke-linecap="round"/>
<line x1="240.9" y1="961.5" x2="254.6" y2="961.5" stroke="#000" stroke-width="3.3" stroke-linecap="round"/>
<line x1="240.9" y1="932.8" x2="254.6" y2="932.8" stroke="#000" stroke-width="3.3" stroke-linecap="round"/>
<line x1="240.9" y1="904.1" x2="254.6" y2="904.1" stroke="#000" stroke-width="3.3" stroke-linecap="round"/>
<line x1="240.9" y1="875.4" x2="254.6" y2="875.4" stroke="#000" stroke-width="3.3" stroke-linecap="round"/>
<line x1="233.4" y1="846.8" x2="254.6" y2="846.8" stroke="#000" stroke-width="3.3" stroke-linecap="round"/>
<line x1="240.9" y1="818.1" x2="254.6" y2="818.1" stroke="#000" stroke-width="3.3" stroke-linecap="round"/>
<line x1="240.9" y1="789.4" x2="254.6" y2="789.4" stroke="#000" stroke-width="3.3" stroke-linecap="round"/>
<line x1="240.9" y1="760.7" x2="254.6" y2="760.7" stroke="#000" stroke-width="3.3" stroke-linecap="round"/>
<line x1="240.9" y1="732" x2="254.6" y2="732" stroke="#000" stroke-width="3.3" stroke-linecap="round"/>
<line x1="233.4" y1="703.3" x2="254.6" y2="703.3" stroke="#000" stroke-width="3.3" stroke-linecap="round"/>
<line x1="254.6" y1="1277.1" x2="254.6" y2="1297.4" stroke="#000" stroke-width="3.3" stroke-linecap="round"/>
<line x1="326.4" y1="1277.1" x2="326.4" y2="1290.7" stroke="#000" stroke-width="3.3" stroke-linecap="round"/>
<line x1="398.2" y1="1277.1" x2="398.2" y2="1297.4" stroke="#000" stroke-width="3.3" stroke-linecap="round"/>
<line x1="469.9" y1="1277.1" x2="469.9" y2="1290.7" stroke="#000" stroke-width="3.3" stroke-linecap="round"/>
<line x1="541.7" y1="1277.1" x2="541.7" y2="1297.4" stroke="#000" stroke-width="3.3" stroke-linecap="round"/>
<line x1="613.5" y1="1277.1" x2="613.5" y2="1290.7" stroke="#000" stroke-width="3.3" stroke-linecap="round"/>
<line x1="685.3" y1="1277.1" x2="685.3" y2="1297.4" stroke="#000" stroke-width="3.3" stroke-linecap="round"/>
<line x1="757.1" y1="1277.1" x2="757.1" y2="1290.7" stroke="#000" stroke-width="3.3" stroke-linecap="round"/>
<line x1="828.8" y1="1277.1" x2="828.8" y2="1297.4" stroke="#000" stroke-width="3.3" stroke-linecap="round"/>
<line x1="900.6" y1="1277.1" x2="900.6" y2="1290.7" stroke="#000" stroke-width="3.3" stroke-linecap="round"/>
<line x1="972.4" y1="1277.1" x2="972.4" y2="1297.4" stroke="#000" stroke-width="3.3" stroke-linecap="round"/>
<line x1="972.4" y1="1277.1" x2="993.4" y2="1277.1" stroke="#000" stroke-width="3.3" stroke-linecap="round"/>
<line x1="972.4" y1="1187.3" x2="986.3" y2="1187.3" stroke="#000" stroke-width="3.3" stroke-linecap="round"/>
<line x1="972.4" y1="1097.5" x2="993.4" y2="1097.5" stroke="#000" stroke-width="3.3" stroke-linecap="round"/>
<line x1="972.4" y1="1007.7" x2="986.3" y2="1007.7" stroke="#000" stroke-width="3.3" stroke-linecap="round"/>
<line x1="972.4" y1="917.9" x2="993.4" y2="917.9" stroke="#000" stroke-width="3.3" stroke-linecap="round"/>
<line x1="972.4" y1="828.4" x2="986.3" y2="828.4" stroke="#000" stroke-width="3.3" stroke-linecap="round"/>
<line x1="972.4" y1="738.9" x2="993.4" y2="738.9" stroke="#000" stroke-width="3.3" stroke-linecap="round"/>
<g transform="translate(195.5 1289.8) scale(0.985 1)">
<text xml:space="preserve" x="-23.1" y="0" font-size="41.5">0</text>
</g>
<g transform="translate(195.5 1146.3) scale(0.985 1)">
<text xml:space="preserve" x="-69.2" y="0" font-size="41.5">500</text>
</g>
<g transform="translate(195.5 1002.9) scale(0.985 1)">
<path d="M763 0L583 0L583 1147Q518 1085 412.5 1023Q307 961 223 930L223 1104Q374 1175 472.5 1263Q571 1351 627 1409L763 1409Z" transform="translate(-92.3 0) scale(0.02026 -0.02026)"/>
<text xml:space="preserve" x="-69.2" y="0" font-size="41.5">000</text>
</g>
<g transform="translate(195.5 859.5) scale(0.985 1)">
<path d="M763 0L583 0L583 1147Q518 1085 412.5 1023Q307 961 223 930L223 1104Q374 1175 472.5 1263Q571 1351 627 1409L763 1409Z" transform="translate(-92.3 0) scale(0.02026 -0.02026)"/>
<text xml:space="preserve" x="-69.2" y="0" font-size="41.5">500</text>
</g>
<g transform="translate(195.5 716) scale(0.985 1)">
<text xml:space="preserve" x="-92.3" y="0" font-size="41.5">2000</text>
</g>
<g transform="translate(253.8 1370.6) scale(0.985 1)">
<text xml:space="preserve" x="-11.5" y="0" font-size="41.5">0</text>
</g>
<g transform="translate(397.4 1370.6) scale(0.985 1)">
<text xml:space="preserve" x="-11.5" y="0" font-size="41.5">2</text>
</g>
<g transform="translate(540.9 1370.6) scale(0.985 1)">
<text xml:space="preserve" x="-11.5" y="0" font-size="41.5">4</text>
</g>
<g transform="translate(684.5 1370.6) scale(0.985 1)">
<text xml:space="preserve" x="-11.5" y="0" font-size="41.5">6</text>
</g>
<g transform="translate(828 1370.6) scale(0.985 1)">
<text xml:space="preserve" x="-11.5" y="0" font-size="41.5">8</text>
</g>
<g transform="translate(971.6 1370.6) scale(0.985 1)">
<path d="M763 0L583 0L583 1147Q518 1085 412.5 1023Q307 961 223 930L223 1104Q374 1175 472.5 1263Q571 1351 627 1409L763 1409Z" transform="translate(-23.1 0) scale(0.02026 -0.02026)"/>
<text xml:space="preserve" x="0" y="0" font-size="41.5">0</text>
</g>
<path d="M257 1275.5L257 1275.7L257.1 1275.8L257.2 1276L257.4 1276.1L257.7 1276.2L257.9 1276.3L258.3 1276.3L258.7 1276.4L259.1 1276.4L259.6 1276.4L260.2 1276.4L260.8 1276.4L261.4 1276.4L262.2 1276.3L262.9 1276.3L263.7 1276.2L264.6 1276.1L265.5 1276L266.5 1275.9L267.5 1275.7L268.6 1275.6L269.7 1275.4L270.9 1275.2L272.1 1275.1L273.4 1274.8L274.8 1274.6L276.2 1274.4L277.6 1274.2L279.1 1273.9L280.7 1273.7L282.3 1273.4L283.9 1273.1L285.6 1272.8L287.4 1272.5L289.2 1272.2L291.1 1271.9L293 1271.6L295 1271.3L297 1270.9L298 1270.7L300 1270.4L302 1270.1L304 1269.7L306 1269.4L308 1269.1L310 1268.8L312 1268.4L314 1268.1L316 1267.8L318 1267.5L320 1267.1L322 1266.8L324 1266.5L326 1266.2L328 1265.9L330 1265.6L332 1265.3L334 1265L336 1264.7L338 1264.4L340 1264.1L342 1263.8L344 1263.5L346 1263.2L348 1263L350 1262.7L352 1262.4L354 1262.1L356 1261.9L358 1261.6L360 1261.3L362 1261.1L364 1260.8L366 1260.6L368 1260.3L370 1260.1L372 1259.8L374 1259.6L376 1259.4L378 1259.1L380 1258.9L382 1258.7L384 1258.5L386 1258.3L388 1258.1L390 1257.8L392 1257.6L394 1257.4L396 1257.2L398 1257L400 1256.9L402 1256.7L404 1256.5L406 1256.3L408 1256.1L410 1255.9L412 1255.8L414 1255.6L416 1255.4L418 1255.2L420 1255.1L422 1254.9L424 1254.8L426 1254.6L428 1254.4L430 1254.3L432 1254.1L434 1254L436 1253.8L438 1253.7L440 1253.5L442 1253.4L444 1253.3L446 1253.1L448 1253L450 1252.8L452 1252.7L454 1252.6L456 1252.5L458 1252.3L460 1252.2L462 1252.1L464 1252L466 1251.8L468 1251.7L470 1251.6L472 1251.5L474 1251.4L476 1251.3L478 1251.1L480 1251L482 1250.9L484 1250.8L486 1250.7L488 1250.6L490 1250.5L492 1250.4L494 1250.3L496 1250.2L498 1250.1L500 1250L502 1249.9L504 1249.8L506 1249.7L508 1249.6L510 1249.6L512 1249.5L514 1249.4L516 1249.3L518 1249.2L520 1249.1L522 1249L524 1249L526 1248.9L528 1248.8L530 1248.7L532 1248.6L534 1248.6L536 1248.5L538 1248.4L540 1248.4L542 1248.3L544 1248.2L546 1248.1L548 1248.1L550 1248L552 1247.9L554 1247.9L556 1247.8L558 1247.7L560 1247.7L562 1247.6L564 1247.6L566 1247.5L568 1247.4L570 1247.4L572 1247.3L574 1247.3L576 1247.2L578 1247.1L580 1247.1L582 1247L584 1247L586 1246.9L588 1246.9L590 1246.8L592 1246.8L594 1246.7L596 1246.7L598 1246.6L600 1246.6L602 1246.5L604 1246.5L606 1246.4L608 1246.4L610 1246.3L612 1246.3L614 1246.2L616 1246.2L618 1246.2L620 1246.1L622 1246.1L624 1246L626 1246L628 1245.9L630 1245.9L632 1245.9L634 1245.8L636 1245.8L638 1245.7L640 1245.7L642 1245.7L644 1245.6L646 1245.6L648 1245.6L650 1245.5L652 1245.5L654 1245.5L656 1245.4L658 1245.4L660 1245.4L662 1245.3L664 1245.3L666 1245.3L668 1245.2L670 1245.2L672 1245.2L674 1245.1L676 1245.1L678 1245.1L680 1245L682 1245L684 1245L686 1244.9L688 1244.9L690 1244.9L692 1244.9L694 1244.8L696 1244.8L698 1244.8L700 1244.8L702 1244.7L704 1244.7L706 1244.7L708 1244.6L710 1244.6L712 1244.6L714 1244.6L716 1244.5L718 1244.5L720 1244.5L722 1244.5L724 1244.5L726 1244.4L728 1244.4L730 1244.4L732 1244.4L734 1244.3L736 1244.3L738 1244.3L740 1244.3L742 1244.2L744 1244.2L746 1244.2L748 1244.2L750 1244.2L752 1244.1L754 1244.1L756 1244.1L758 1244.1L760 1244.1L762 1244L764 1244L766 1244L768 1244L770 1244L772 1243.9L774 1243.9L776 1243.9L778 1243.9L780 1243.9L782 1243.8L784 1243.8L786 1243.8L788 1243.8L790 1243.8L792 1243.8L794 1243.7L796 1243.7L798 1243.7L800 1243.7L802 1243.7L804 1243.6L806 1243.6L808 1243.6L810 1243.6L812 1243.6L814 1243.6L816 1243.5L818 1243.5L820 1243.5L822 1243.5L824 1243.5L826 1243.5L828 1243.4L830 1243.4L832 1243.4L834 1243.4L836 1243.4L838 1243.4L840 1243.4L842 1243.3L844 1243.3L846 1243.3L848 1243.3L850 1243.3L852 1243.3L854 1243.2L856 1243.2L858 1243.2L860 1243.2L862 1243.2L864 1243.2L866 1243.2L868 1243.1L870 1243.1L872 1243.1L874 1243.1L876 1243.1L878 1243.1L880 1243L882 1243L884 1243L886 1243L888 1243L890 1243L892 1243L894 1242.9L896 1242.9L898 1242.9L900 1242.9L902 1242.9L904 1242.9L906 1242.9L908 1242.8L910 1242.8L912 1242.8L914 1242.8L916 1242.8L918 1242.8L920 1242.7L922 1242.7L924 1242.7L926 1242.7L928 1242.7L930 1242.7L932 1242.7L934 1242.6L936 1242.6L938 1242.6L940 1242.6L942 1242.6L944 1242.6L946 1242.6L948 1242.5L950 1242.5L952 1242.5L954 1242.5L956 1242.5L958 1242.5L960 1242.4L962 1242.4L964 1242.4L966 1242.4L968 1242.4L970 1242.4L972 1242.4L972.4 1242.4" fill="none" stroke="#F01A10" stroke-width="4.4" stroke-linejoin="round" stroke-linecap="butt"/>
<path d="M257 1275.5L257 1275.7L257.1 1275.9L257.2 1276L257.4 1276.1L257.7 1276.2L257.9 1276.2L258.3 1276.2L258.7 1276.1L259.1 1276L259.6 1275.9L260.2 1275.7L260.8 1275.5L261.4 1275.3L262.2 1275L262.9 1274.7L263.7 1274.4L264.6 1274L265.5 1273.6L266.5 1273.2L267.5 1272.8L268.6 1272.3L269.7 1271.8L270.9 1271.3L272.1 1270.7L273.4 1270.2L274.8 1269.6L276.2 1269L277.6 1268.4L279.1 1267.7L280.7 1267.1L282.3 1266.4L283.9 1265.7L285.6 1265L287.4 1264.3L289.2 1263.5L291.1 1262.8L293 1262L295 1261.3L297 1260.5L298 1260.1L300 1259.4L302 1258.6L304 1257.9L306 1257.2L308 1256.4L310 1255.7L312 1255.1L314 1254.4L316 1253.7L318 1253L320 1252.4L322 1251.8L324 1251.1L326 1250.5L328 1249.9L330 1249.3L332 1248.7L334 1248.1L336 1247.6L338 1247L340 1246.4L342 1245.9L344 1245.4L346 1244.9L348 1244.3L350 1243.8L352 1243.3L354 1242.9L356 1242.4L358 1241.9L360 1241.4L362 1241L364 1240.6L366 1240.1L368 1239.7L370 1239.3L372 1238.9L374 1238.5L376 1238.1L378 1237.7L380 1237.3L382 1237L384 1236.6L386 1236.3L388 1235.9L390 1235.6L392 1235.3L394 1234.9L396 1234.6L398 1234.3L400 1234L402 1233.7L404 1233.4L406 1233.1L408 1232.9L410 1232.6L412 1232.3L414 1232.1L416 1231.8L418 1231.6L420 1231.3L422 1231.1L424 1230.8L426 1230.6L428 1230.4L430 1230.2L432 1230L434 1229.7L436 1229.5L438 1229.3L440 1229.1L442 1228.9L444 1228.7L446 1228.5L448 1228.4L450 1228.2L452 1228L454 1227.8L456 1227.6L458 1227.5L460 1227.3L462 1227.1L464 1227L466 1226.8L468 1226.7L470 1226.5L472 1226.4L474 1226.2L476 1226.1L478 1225.9L480 1225.8L482 1225.7L484 1225.5L486 1225.4L488 1225.3L490 1225.1L492 1225L494 1224.9L496 1224.8L498 1224.7L500 1224.5L502 1224.4L504 1224.3L506 1224.2L508 1224.1L510 1224L512 1223.9L514 1223.8L516 1223.7L518 1223.6L520 1223.5L522 1223.4L524 1223.3L526 1223.2L528 1223.1L530 1223L532 1222.9L534 1222.8L536 1222.8L538 1222.7L540 1222.6L542 1222.5L544 1222.4L546 1222.3L548 1222.3L550 1222.2L552 1222.1L554 1222L556 1222L558 1221.9L560 1221.8L562 1221.8L564 1221.7L566 1221.6L568 1221.6L570 1221.5L572 1221.4L574 1221.4L576 1221.3L578 1221.2L580 1221.2L582 1221.1L584 1221.1L586 1221L588 1221L590 1220.9L592 1220.8L594 1220.8L596 1220.7L598 1220.7L600 1220.6L602 1220.6L604 1220.5L606 1220.5L608 1220.4L610 1220.4L612 1220.3L614 1220.3L616 1220.2L618 1220.2L620 1220.2L622 1220.1L624 1220.1L626 1220L628 1220L630 1219.9L632 1219.9L634 1219.9L636 1219.8L638 1219.8L640 1219.7L642 1219.7L644 1219.7L646 1219.6L648 1219.6L650 1219.6L652 1219.5L654 1219.5L656 1219.5L658 1219.4L660 1219.4L662 1219.4L664 1219.3L666 1219.3L668 1219.3L670 1219.2L672 1219.2L674 1219.2L676 1219.1L678 1219.1L680 1219.1L682 1219L684 1219L686 1219L688 1219L690 1218.9L692 1218.9L694 1218.9L696 1218.8L698 1218.8L700 1218.8L702 1218.8L704 1218.7L706 1218.7L708 1218.7L710 1218.7L712 1218.6L714 1218.6L716 1218.6L718 1218.6L720 1218.5L722 1218.5L724 1218.5L726 1218.5L728 1218.4L730 1218.4L732 1218.4L734 1218.4L736 1218.3L738 1218.3L740 1218.3L742 1218.3L744 1218.3L746 1218.2L748 1218.2L750 1218.2L752 1218.2L754 1218.1L756 1218.1L758 1218.1L760 1218.1L762 1218.1L764 1218L766 1218L768 1218L770 1218L772 1217.9L774 1217.9L776 1217.9L778 1217.9L780 1217.9L782 1217.8L784 1217.8L786 1217.8L788 1217.8L790 1217.8L792 1217.7L794 1217.7L796 1217.7L798 1217.7L800 1217.7L802 1217.6L804 1217.6L806 1217.6L808 1217.6L810 1217.5L812 1217.5L814 1217.5L816 1217.5L818 1217.5L820 1217.4L822 1217.4L824 1217.4L826 1217.4L828 1217.4L830 1217.3L832 1217.3L834 1217.3L836 1217.3L838 1217.2L840 1217.2L842 1217.2L844 1217.2L846 1217.2L848 1217.1L850 1217.1L852 1217.1L854 1217.1L856 1217L858 1217L860 1217L862 1217L864 1217L866 1216.9L868 1216.9L870 1216.9L872 1216.9L874 1216.8L876 1216.8L878 1216.8L880 1216.8L882 1216.7L884 1216.7L886 1216.7L888 1216.7L890 1216.6L892 1216.6L894 1216.6L896 1216.6L898 1216.5L900 1216.5L902 1216.5L904 1216.5L906 1216.4L908 1216.4L910 1216.4L912 1216.4L914 1216.3L916 1216.3L918 1216.3L920 1216.3L922 1216.2L924 1216.2L926 1216.2L928 1216.1L930 1216.1L932 1216.1L934 1216.1L936 1216L938 1216L940 1216L942 1215.9L944 1215.9L946 1215.9L948 1215.9L950 1215.8L952 1215.8L954 1215.8L956 1215.7L958 1215.7L960 1215.7L962 1215.6L964 1215.6L966 1215.6L968 1215.5L970 1215.5L972 1215.5L972.4 1215.5" fill="none" stroke="#000000" stroke-width="4.4" stroke-linejoin="round" stroke-linecap="butt"/>
<path d="M257 1275.5L257 1276.4L257.1 1277.2L257.2 1277.8L257.4 1278.3L257.7 1278.6L257.9 1278.8L258.3 1278.8L258.7 1278.7L259.1 1278.5L259.6 1278.1L260.2 1277.6L260.8 1277L261.4 1276.3L262.2 1275.4L262.9 1274.5L263.7 1273.4L264.6 1272.3L265.5 1271L266.5 1269.7L267.5 1268.3L268.6 1266.8L269.7 1265.2L270.9 1263.6L272.1 1261.9L273.4 1260.1L274.8 1258.3L276.2 1256.4L277.6 1254.5L279.1 1252.5L280.7 1250.5L282.3 1248.4L283.9 1246.3L285.6 1244.2L287.4 1242.1L289.2 1239.9L291.1 1237.7L293 1235.6L295 1233.4L297 1231.2L298 1230.1L300 1228L302 1226L304 1224L306 1222.1L308 1220.2L310 1218.4L312 1216.6L314 1214.9L316 1213.2L318 1211.5L320 1209.9L322 1208.3L324 1206.8L326 1205.3L328 1203.8L330 1202.3L332 1200.9L334 1199.6L336 1198.2L338 1196.9L340 1195.7L342 1194.4L344 1193.2L346 1192L348 1190.9L350 1189.8L352 1188.7L354 1187.6L356 1186.6L358 1185.5L360 1184.6L362 1183.6L364 1182.7L366 1181.8L368 1180.9L370 1180L372 1179.2L374 1178.4L376 1177.6L378 1176.8L380 1176.1L382 1175.4L384 1174.7L386 1174L388 1173.4L390 1172.8L392 1172.2L394 1171.6L396 1171L398 1170.5L400 1170L402 1169.4L404 1168.9L406 1168.5L408 1168L410 1167.6L412 1167.1L414 1166.7L416 1166.3L418 1165.9L420 1165.5L422 1165.2L424 1164.8L426 1164.5L428 1164.2L430 1163.8L432 1163.5L434 1163.2L436 1163L438 1162.7L440 1162.4L442 1162.2L444 1161.9L446 1161.7L448 1161.4L450 1161.2L452 1161L454 1160.8L456 1160.6L458 1160.4L460 1160.2L462 1160L464 1159.9L466 1159.7L468 1159.5L470 1159.4L472 1159.2L474 1159.1L476 1158.9L478 1158.8L480 1158.6L482 1158.5L484 1158.4L486 1158.2L488 1158.1L490 1158L492 1157.9L494 1157.7L496 1157.6L498 1157.5L500 1157.4L502 1157.3L504 1157.2L506 1157.1L508 1157L510 1156.9L512 1156.8L514 1156.7L516 1156.6L518 1156.5L520 1156.4L522 1156.3L524 1156.2L526 1156.1L528 1156L530 1155.9L532 1155.8L534 1155.7L536 1155.6L538 1155.5L540 1155.4L542 1155.3L544 1155.2L546 1155.1L548 1155L550 1154.9L552 1154.8L554 1154.7L556 1154.6L558 1154.5L560 1154.4L562 1154.3L564 1154.2L566 1154.1L568 1153.9L570 1153.8L572 1153.7L574 1153.6L576 1153.5L578 1153.4L580 1153.3L582 1153.2L584 1153.1L586 1153L588 1152.9L590 1152.8L592 1152.7L594 1152.6L596 1152.5L598 1152.4L600 1152.3L602 1152.2L604 1152.1L606 1152.1L608 1152L610 1151.9L612 1151.8L614 1151.7L616 1151.6L618 1151.5L620 1151.4L622 1151.3L624 1151.2L626 1151.1L628 1151L630 1150.9L632 1150.8L634 1150.7L636 1150.6L638 1150.5L640 1150.4L642 1150.4L644 1150.3L646 1150.2L648 1150.1L650 1150L652 1149.9L654 1149.8L656 1149.7L658 1149.6L660 1149.6L662 1149.5L664 1149.4L666 1149.3L668 1149.2L670 1149.1L672 1149L674 1149L676 1148.9L678 1148.8L680 1148.7L682 1148.6L684 1148.6L686 1148.5L688 1148.4L690 1148.3L692 1148.2L694 1148.2L696 1148.1L698 1148L700 1147.9L702 1147.9L704 1147.8L706 1147.7L708 1147.6L710 1147.6L712 1147.5L714 1147.4L716 1147.4L718 1147.3L720 1147.2L722 1147.1L724 1147.1L726 1147L728 1146.9L730 1146.9L732 1146.8L734 1146.8L736 1146.7L738 1146.6L740 1146.6L742 1146.5L744 1146.4L746 1146.4L748 1146.3L750 1146.3L752 1146.2L754 1146.1L756 1146.1L758 1146L760 1146L762 1145.9L764 1145.9L766 1145.8L768 1145.8L770 1145.7L772 1145.7L774 1145.6L776 1145.6L778 1145.5L780 1145.4L782 1145.4L784 1145.4L786 1145.3L788 1145.3L790 1145.2L792 1145.2L794 1145.1L796 1145.1L798 1145L800 1145L802 1144.9L804 1144.9L806 1144.8L808 1144.8L810 1144.8L812 1144.7L814 1144.7L816 1144.6L818 1144.6L820 1144.6L822 1144.5L824 1144.5L826 1144.4L828 1144.4L830 1144.4L832 1144.3L834 1144.3L836 1144.2L838 1144.2L840 1144.2L842 1144.1L844 1144.1L846 1144.1L848 1144L850 1144L852 1144L854 1143.9L856 1143.9L858 1143.9L860 1143.8L862 1143.8L864 1143.8L866 1143.7L868 1143.7L870 1143.7L872 1143.6L874 1143.6L876 1143.6L878 1143.6L880 1143.5L882 1143.5L884 1143.5L886 1143.4L888 1143.4L890 1143.4L892 1143.4L894 1143.3L896 1143.3L898 1143.3L900 1143.3L902 1143.2L904 1143.2L906 1143.2L908 1143.2L910 1143.1L912 1143.1L914 1143.1L916 1143.1L918 1143L920 1143L922 1143L924 1143L926 1143L928 1142.9L930 1142.9L932 1142.9L934 1142.9L936 1142.8L938 1142.8L940 1142.8L942 1142.8L944 1142.8L946 1142.7L948 1142.7L950 1142.7L952 1142.7L954 1142.7L956 1142.7L958 1142.6L960 1142.6L962 1142.6L964 1142.6L966 1142.6L968 1142.6L970 1142.5L972 1142.5L972.4 1142.5" fill="none" stroke="#4B9B69" stroke-width="4.4" stroke-linejoin="round" stroke-linecap="butt"/>
<path d="M257 1275.5L257 1275.7L257.1 1275.7L257.2 1275.5L257.4 1275.2L257.7 1274.6L257.9 1273.9L258.3 1273L258.7 1271.9L259.1 1270.7L259.6 1269.3L260.2 1267.8L260.8 1266.1L261.4 1264.3L262.2 1262.4L262.9 1260.3L263.7 1258.1L264.6 1255.7L265.5 1253.3L266.5 1250.7L267.5 1248.1L268.6 1245.3L269.7 1242.4L270.9 1239.4L272.1 1236.4L273.4 1233.3L274.8 1230.1L276.2 1226.8L277.6 1223.4L279.1 1220L280.7 1216.6L282.3 1213L283.9 1209.5L285.6 1205.8L287.4 1202.2L289.2 1198.5L291.1 1194.8L293 1191.1L295 1187.3L297 1183.5L298 1181.7L300 1178.1L302 1174.6L304 1171.2L306 1167.8L308 1164.5L310 1161.3L312 1158.2L314 1155.2L316 1152.2L318 1149.3L320 1146.4L322 1143.6L324 1140.9L326 1138.3L328 1135.7L330 1133.2L332 1130.8L334 1128.4L336 1126.1L338 1123.8L340 1121.7L342 1119.5L344 1117.5L346 1115.4L348 1113.5L350 1111.6L352 1109.8L354 1108L356 1106.3L358 1104.6L360 1103L362 1101.4L364 1099.9L366 1098.5L368 1097.1L370 1095.8L372 1094.5L374 1093.2L376 1092.1L378 1090.9L380 1089.8L382 1088.8L384 1087.8L386 1086.9L388 1085.9L390 1085.1L392 1084.2L394 1083.4L396 1082.6L398 1081.9L400 1081.2L402 1080.5L404 1079.8L406 1079.2L408 1078.6L410 1078L412 1077.4L414 1076.8L416 1076.3L418 1075.8L420 1075.3L422 1074.8L424 1074.3L426 1073.9L428 1073.4L430 1073L432 1072.5L434 1072.1L436 1071.7L438 1071.3L440 1070.9L442 1070.5L444 1070.1L446 1069.8L448 1069.4L450 1069L452 1068.6L454 1068.3L456 1067.9L458 1067.5L460 1067.2L462 1066.8L464 1066.5L466 1066.1L468 1065.7L470 1065.4L472 1065L474 1064.7L476 1064.3L478 1064L480 1063.6L482 1063.3L484 1063L486 1062.6L488 1062.3L490 1061.9L492 1061.6L494 1061.3L496 1061L498 1060.6L500 1060.3L502 1060L504 1059.7L506 1059.3L508 1059L510 1058.7L512 1058.4L514 1058.1L516 1057.8L518 1057.5L520 1057.2L522 1056.9L524 1056.6L526 1056.3L528 1056L530 1055.7L532 1055.4L534 1055.1L536 1054.8L538 1054.5L540 1054.2L542 1054L544 1053.7L546 1053.4L548 1053.1L550 1052.8L552 1052.6L554 1052.3L556 1052L558 1051.8L560 1051.5L562 1051.2L564 1051L566 1050.7L568 1050.5L570 1050.2L572 1050L574 1049.7L576 1049.5L578 1049.2L580 1049L582 1048.8L584 1048.5L586 1048.3L588 1048.1L590 1047.8L592 1047.6L594 1047.4L596 1047.1L598 1046.9L600 1046.7L602 1046.5L604 1046.3L606 1046.1L608 1045.8L610 1045.6L612 1045.4L614 1045.2L616 1045L618 1044.8L620 1044.6L622 1044.4L624 1044.2L626 1044L628 1043.8L630 1043.6L632 1043.5L634 1043.3L636 1043.1L638 1042.9L640 1042.7L642 1042.6L644 1042.4L646 1042.2L648 1042L650 1041.9L652 1041.7L654 1041.5L656 1041.3L658 1041.2L660 1041L662 1040.9L664 1040.7L666 1040.5L668 1040.4L670 1040.2L672 1040.1L674 1039.9L676 1039.8L678 1039.6L680 1039.5L682 1039.3L684 1039.2L686 1039L688 1038.9L690 1038.7L692 1038.6L694 1038.4L696 1038.3L698 1038.2L700 1038L702 1037.9L704 1037.7L706 1037.6L708 1037.5L710 1037.3L712 1037.2L714 1037.1L716 1036.9L718 1036.8L720 1036.7L722 1036.6L724 1036.4L726 1036.3L728 1036.2L730 1036.1L732 1035.9L734 1035.8L736 1035.7L738 1035.6L740 1035.4L742 1035.3L744 1035.2L746 1035.1L748 1035L750 1034.9L752 1034.7L754 1034.6L756 1034.5L758 1034.4L760 1034.3L762 1034.2L764 1034.1L766 1033.9L768 1033.8L770 1033.7L772 1033.6L774 1033.5L776 1033.4L778 1033.3L780 1033.2L782 1033.1L784 1033L786 1032.9L788 1032.8L790 1032.7L792 1032.5L794 1032.4L796 1032.3L798 1032.2L800 1032.1L802 1032L804 1031.9L806 1031.8L808 1031.7L810 1031.6L812 1031.5L814 1031.4L816 1031.3L818 1031.2L820 1031.1L822 1031L824 1030.9L826 1030.8L828 1030.7L830 1030.6L832 1030.5L834 1030.4L836 1030.4L838 1030.3L840 1030.2L842 1030.1L844 1030L846 1029.9L848 1029.8L850 1029.7L852 1029.6L854 1029.5L856 1029.4L858 1029.3L860 1029.2L862 1029.1L864 1029L866 1028.9L868 1028.8L870 1028.7L872 1028.7L874 1028.6L876 1028.5L878 1028.4L880 1028.3L882 1028.2L884 1028.1L886 1028L888 1027.9L890 1027.8L892 1027.7L894 1027.6L896 1027.5L898 1027.5L900 1027.4L902 1027.3L904 1027.2L906 1027.1L908 1027L910 1026.9L912 1026.8L914 1026.7L916 1026.6L918 1026.5L920 1026.4L922 1026.4L924 1026.3L926 1026.2L928 1026.1L930 1026L932 1025.9L934 1025.8L936 1025.7L938 1025.6L940 1025.5L942 1025.4L944 1025.3L946 1025.2L948 1025.2L950 1025.1L952 1025L954 1024.9L956 1024.8L958 1024.7L960 1024.6L962 1024.5L964 1024.4L966 1024.3L968 1024.2" fill="none" stroke="#000000" stroke-width="4.4" stroke-linejoin="round" stroke-linecap="butt"/>
<circle cx="257" cy="1275.5" r="8.6" fill="#fff"/>
<circle cx="257" cy="1275.5" r="5.3" fill="#000000"/>
<circle cx="296.3" cy="1184.8" r="8.6" fill="#fff"/>
<circle cx="296.3" cy="1184.8" r="5.3" fill="#000000"/>
<circle cx="335.6" cy="1126.6" r="8.6" fill="#fff"/>
<circle cx="335.6" cy="1126.6" r="5.3" fill="#000000"/>
<circle cx="374.9" cy="1092.7" r="8.6" fill="#fff"/>
<circle cx="374.9" cy="1092.7" r="5.3" fill="#000000"/>
<circle cx="414.2" cy="1076.8" r="8.6" fill="#fff"/>
<circle cx="414.2" cy="1076.8" r="5.3" fill="#000000"/>
<circle cx="453.5" cy="1068.4" r="8.6" fill="#fff"/>
<circle cx="453.5" cy="1068.4" r="5.3" fill="#000000"/>
<circle cx="492.8" cy="1061.5" r="8.6" fill="#fff"/>
<circle cx="492.8" cy="1061.5" r="5.3" fill="#000000"/>
<circle cx="532.1" cy="1055.4" r="8.6" fill="#fff"/>
<circle cx="532.1" cy="1055.4" r="5.3" fill="#000000"/>
<circle cx="571.4" cy="1050.1" r="8.6" fill="#fff"/>
<circle cx="571.4" cy="1050.1" r="5.3" fill="#000000"/>
<circle cx="610.7" cy="1045.6" r="8.6" fill="#fff"/>
<circle cx="610.7" cy="1045.6" r="5.3" fill="#000000"/>
<circle cx="650" cy="1041.9" r="8.6" fill="#fff"/>
<circle cx="650" cy="1041.9" r="5.3" fill="#000000"/>
<circle cx="689.3" cy="1038.8" r="8.6" fill="#fff"/>
<circle cx="689.3" cy="1038.8" r="5.3" fill="#000000"/>
<circle cx="728.6" cy="1036.1" r="8.6" fill="#fff"/>
<circle cx="728.6" cy="1036.1" r="5.3" fill="#000000"/>
<circle cx="767.9" cy="1033.8" r="8.6" fill="#fff"/>
<circle cx="767.9" cy="1033.8" r="5.3" fill="#000000"/>
<circle cx="807.2" cy="1031.8" r="8.6" fill="#fff"/>
<circle cx="807.2" cy="1031.8" r="5.3" fill="#000000"/>
<circle cx="846.5" cy="1029.9" r="8.6" fill="#fff"/>
<circle cx="846.5" cy="1029.9" r="5.3" fill="#000000"/>
<circle cx="885.8" cy="1028" r="8.6" fill="#fff"/>
<circle cx="885.8" cy="1028" r="5.3" fill="#000000"/>
<circle cx="925.1" cy="1026.2" r="8.6" fill="#fff"/>
<circle cx="925.1" cy="1026.2" r="5.3" fill="#000000"/>
<circle cx="964.4" cy="1024.4" r="8.6" fill="#fff"/>
<circle cx="964.4" cy="1024.4" r="5.3" fill="#000000"/>
<path d="M254.4 1277L254.4 1278.1L254.5 1278.8L254.6 1279.1L254.8 1279L255.1 1278.5L255.3 1277.7L255.7 1276.6L256.1 1275.1L256.5 1273.2L257 1271.1L257.6 1268.7L258.2 1265.9L258.8 1262.9L259.6 1259.6L260.3 1256L261.1 1252.2L262 1248.2L262.9 1243.9L263.9 1239.4L264.9 1234.7L266 1229.7L267.1 1224.6L268.3 1219.3L269.5 1213.9L270.8 1208.2L272.2 1202.5L273.6 1196.5L275 1190.5L276.5 1184.3L278.1 1178.1L279.7 1171.7L281.3 1165.3L283 1158.7L284.8 1152.1L286.6 1145.5L288.5 1138.8L290.4 1132L292.4 1125.3L294.4 1118.5L295.4 1115.2L297.4 1108.8L299.4 1102.5L301.4 1096.4L303.4 1090.4L305.4 1084.5L307.4 1078.9L309.4 1073.3L311.4 1067.9L313.4 1062.7L315.4 1057.6L317.4 1052.6L319.4 1047.8L321.4 1043.1L323.4 1038.6L325.4 1034.1L327.4 1029.8L329.4 1025.7L331.4 1021.6L333.4 1017.7L335.4 1014L337.4 1010.3L339.4 1006.7L341.4 1003.3L343.4 1000L345.4 996.8L347.4 993.6L349.4 990.6L351.4 987.7L353.4 984.9L355.4 982.1L357.4 979.5L359.4 976.9L361.4 974.4L363.4 972L365.4 969.6L367.4 967.4L369.4 965.2L371.4 963L373.4 961L375.4 959L377.4 957.1L379.4 955.2L381.4 953.4L383.4 951.7L385.4 950L387.4 948.3L389.4 946.7L391.4 945.2L393.4 943.7L395.4 942.2L397.4 940.8L399.4 939.4L401.4 938.1L403.4 936.7L405.4 935.5L407.4 934.2L409.4 933L411.4 931.8L413.4 930.7L415.4 929.5L417.4 928.4L419.4 927.3L421.4 926.3L423.4 925.2L425.4 924.2L427.4 923.2L429.4 922.2L431.4 921.3L433.4 920.3L435.4 919.4L437.4 918.5L439.4 917.6L441.4 916.7L443.4 915.8L445.4 914.9L447.4 914.1L449.4 913.2L451.4 912.4L453.4 911.5L455.4 910.7L457.4 909.9L459.4 909.1L461.4 908.2L463.4 907.4L465.4 906.6L467.4 905.9L469.4 905.1L471.4 904.3L473.4 903.5L475.4 902.8L477.4 902L479.4 901.3L481.4 900.5L483.4 899.8L485.4 899.1L487.4 898.4L489.4 897.7L491.4 896.9L493.4 896.2L495.4 895.5L497.4 894.8L499.4 894.2L501.4 893.5L503.4 892.8L505.4 892.1L507.4 891.5L509.4 890.8L511.4 890.2L513.4 889.5L515.4 888.9L517.4 888.2L519.4 887.6L521.4 887L523.4 886.4L525.4 885.7L527.4 885.1L529.4 884.5L531.4 883.9L533.4 883.3L535.4 882.7L537.4 882.1L539.4 881.5L541.4 881L543.4 880.4L545.4 879.8L547.4 879.2L549.4 878.7L551.4 878.1L553.4 877.6L555.4 877L557.4 876.5L559.4 875.9L561.4 875.4L563.4 874.9L565.4 874.3L567.4 873.8L569.4 873.3L571.4 872.8L573.4 872.3L575.4 871.7L577.4 871.2L579.4 870.7L581.4 870.2L583.4 869.7L585.4 869.3L587.4 868.8L589.4 868.3L591.4 867.8L593.4 867.3L595.4 866.8L597.4 866.4L599.4 865.9L601.4 865.4L603.4 865L605.4 864.5L607.4 864.1L609.4 863.6L611.4 863.2L613.4 862.7L615.4 862.3L617.4 861.9L619.4 861.4L621.4 861L623.4 860.6L625.4 860.1L627.4 859.7L629.4 859.3L631.4 858.9L633.4 858.5L635.4 858.1L637.4 857.7L639.4 857.3L641.4 856.9L643.4 856.5L645.4 856.1L647.4 855.7L649.4 855.3L651.4 854.9L653.4 854.5L655.4 854.1L657.4 853.7L659.4 853.4L661.4 853L663.4 852.6L665.4 852.3L667.4 851.9L669.4 851.5L671.4 851.2L673.4 850.8L675.4 850.5L677.4 850.1L679.4 849.8L681.4 849.4L683.4 849.1L685.4 848.7L687.4 848.4L689.4 848L691.4 847.7L693.4 847.4L695.4 847.1L697.4 846.7L699.4 846.4L701.4 846.1L703.4 845.8L705.4 845.4L707.4 845.1L709.4 844.8L711.4 844.5L713.4 844.2L715.4 843.9L717.4 843.6L719.4 843.3L721.4 843L723.4 842.7L725.4 842.4L727.4 842.1L729.4 841.8L731.4 841.5L733.4 841.2L735.4 840.9L737.4 840.6L739.4 840.3L741.4 840.1L743.4 839.8L745.4 839.5L747.4 839.2L749.4 839L751.4 838.7L753.4 838.4L755.4 838.2L757.4 837.9L759.4 837.6L761.4 837.4L763.4 837.1L765.4 836.8L767.4 836.6L769.4 836.3L771.4 836.1L773.4 835.8L775.4 835.6L777.4 835.3L779.4 835.1L781.4 834.9L783.4 834.6L785.4 834.4L787.4 834.1L789.4 833.9L791.4 833.7L793.4 833.4L795.4 833.2L797.4 833L799.4 832.7L801.4 832.5L803.4 832.3L805.4 832.1L807.4 831.8L809.4 831.6L811.4 831.4L813.4 831.2L815.4 831L817.4 830.8L819.4 830.6L821.4 830.3L823.4 830.1L825.4 829.9L827.4 829.7L829.4 829.5L831.4 829.3L833.4 829.1L835.4 828.9L837.4 828.7L839.4 828.5L841.4 828.3L843.4 828.1L845.4 827.9L847.4 827.7L849.4 827.6L851.4 827.4L853.4 827.2L855.4 827L857.4 826.8L859.4 826.6L861.4 826.4L863.4 826.3L865.4 826.1L867.4 825.9L869.4 825.7L871.4 825.6L873.4 825.4L875.4 825.2L877.4 825L879.4 824.9L881.4 824.7L883.4 824.5L885.4 824.4L887.4 824.2L889.4 824.1L891.4 823.9L893.4 823.7L895.4 823.6L897.4 823.4L899.4 823.3L901.4 823.1L903.4 822.9L905.4 822.8L907.4 822.6L909.4 822.5L911.4 822.3L913.4 822.2L915.4 822.1L917.4 821.9L919.4 821.8L921.4 821.6L923.4 821.5L925.4 821.3L927.4 821.2L929.4 821.1L931.4 820.9L933.4 820.8L935.4 820.6L937.4 820.5L939.4 820.4L941.4 820.3L943.4 820.1L945.4 820L947.4 819.9L949.4 819.7L951.4 819.6L953.4 819.5L955.4 819.4L957.4 819.2L959.4 819.1L961.4 819L963.4 818.9L965.4 818.8L967.4 818.6L969.4 818.5L971.4 818.4L972.4 818.4" fill="none" stroke="#F01A10" stroke-width="4.4" stroke-linejoin="round" stroke-linecap="butt"/>
<circle cx="293.7" cy="1120.9" r="8.6" fill="#fff"/>
<circle cx="293.7" cy="1120.9" r="5.8" fill="#F01A10"/>
<circle cx="333" cy="1018.6" r="8.6" fill="#fff"/>
<circle cx="333" cy="1018.6" r="5.8" fill="#F01A10"/>
<circle cx="372.2" cy="962.2" r="8.6" fill="#fff"/>
<circle cx="372.2" cy="962.2" r="5.8" fill="#F01A10"/>
<circle cx="411.5" cy="931.8" r="8.6" fill="#fff"/>
<circle cx="411.5" cy="931.8" r="5.8" fill="#F01A10"/>
<circle cx="450.8" cy="912.6" r="8.6" fill="#fff"/>
<circle cx="450.8" cy="912.6" r="5.8" fill="#F01A10"/>
<circle cx="490.1" cy="897.4" r="8.6" fill="#fff"/>
<circle cx="490.1" cy="897.4" r="5.8" fill="#F01A10"/>
<circle cx="529.4" cy="884.5" r="8.6" fill="#fff"/>
<circle cx="529.4" cy="884.5" r="5.8" fill="#F01A10"/>
<circle cx="568.6" cy="873.5" r="8.6" fill="#fff"/>
<circle cx="568.6" cy="873.5" r="5.8" fill="#F01A10"/>
<circle cx="607.9" cy="864" r="8.6" fill="#fff"/>
<circle cx="607.9" cy="864" r="5.8" fill="#F01A10"/>
<circle cx="647.2" cy="855.7" r="8.6" fill="#fff"/>
<circle cx="647.2" cy="855.7" r="5.8" fill="#F01A10"/>
<circle cx="686.5" cy="848.5" r="8.6" fill="#fff"/>
<circle cx="686.5" cy="848.5" r="5.8" fill="#F01A10"/>
<circle cx="725.8" cy="842.3" r="8.6" fill="#fff"/>
<circle cx="725.8" cy="842.3" r="5.8" fill="#F01A10"/>
<circle cx="765" cy="836.9" r="8.6" fill="#fff"/>
<circle cx="765" cy="836.9" r="5.8" fill="#F01A10"/>
<circle cx="804.3" cy="832.2" r="8.6" fill="#fff"/>
<circle cx="804.3" cy="832.2" r="5.8" fill="#F01A10"/>
<circle cx="843.6" cy="828.1" r="8.6" fill="#fff"/>
<circle cx="843.6" cy="828.1" r="5.8" fill="#F01A10"/>
<circle cx="882.9" cy="824.6" r="8.6" fill="#fff"/>
<circle cx="882.9" cy="824.6" r="5.8" fill="#F01A10"/>
<circle cx="922.2" cy="821.6" r="8.6" fill="#fff"/>
<circle cx="922.2" cy="821.6" r="5.8" fill="#F01A10"/>
<circle cx="961.4" cy="819" r="8.6" fill="#fff"/>
<circle cx="961.4" cy="819" r="5.8" fill="#F01A10"/>
<path d="M257 1275.5L257 1275.6L257.1 1275.7L257.2 1275.7L257.4 1275.6L257.7 1275.5L257.9 1275.3L258.3 1275.1L258.7 1274.8L259.1 1274.5L259.6 1274.1L260.2 1273.6L260.8 1273.1L261.4 1272.6L262.2 1272L262.9 1271.4L263.7 1270.8L264.6 1270.1L265.5 1269.3L266.5 1268.5L267.5 1267.7L268.6 1266.9L269.7 1266L270.9 1265.1L272.1 1264.1L273.4 1263.1L274.8 1262.1L276.2 1261.1L277.6 1260L279.1 1258.9L280.7 1257.8L282.3 1256.7L283.9 1255.6L285.6 1254.4L287.4 1253.2L289.2 1252L291.1 1250.8L293 1249.6L295 1248.4L297 1247.1L298 1246.5L300 1245.3L302 1244.1L304 1243L306 1241.8L308 1240.7L310 1239.6L312 1238.6L314 1237.5L316 1236.5L318 1235.5L320 1234.5L322 1233.5L324 1232.5L326 1231.6L328 1230.7L330 1229.8L332 1228.9L334 1228L336 1227.2L338 1226.4L340 1225.5L342 1224.7L344 1224L346 1223.2L348 1222.4L350 1221.7L352 1221L354 1220.3L356 1219.6L358 1218.9L360 1218.3L362 1217.6L364 1217L366 1216.4L368 1215.8L370 1215.2L372 1214.7L374 1214.1L376 1213.6L378 1213.1L380 1212.6L382 1212.1L384 1211.6L386 1211.1L388 1210.7L390 1210.2L392 1209.8L394 1209.4L396 1209L398 1208.6L400 1208.2L402 1207.8L404 1207.5L406 1207.1L408 1206.8L410 1206.4L412 1206.1L414 1205.8L416 1205.5L418 1205.2L420 1204.9L422 1204.6L424 1204.3L426 1204L428 1203.8L430 1203.5L432 1203.3L434 1203L436 1202.8L438 1202.5L440 1202.3L442 1202.1L444 1201.9L446 1201.7L448 1201.4L450 1201.2L452 1201L454 1200.8L456 1200.7L458 1200.5L460 1200.3L462 1200.1L464 1199.9L466 1199.8L468 1199.6L470 1199.4L472 1199.3L474 1199.1L476 1199L478 1198.8L480 1198.7L482 1198.6L484 1198.4L486 1198.3L488 1198.1L490 1198L492 1197.9L494 1197.8L496 1197.6L498 1197.5L500 1197.4L502 1197.3L504 1197.2L506 1197.1L508 1196.9L510 1196.8L512 1196.7L514 1196.6L516 1196.5L518 1196.4L520 1196.3L522 1196.2L524 1196.1L526 1196L528 1195.9L530 1195.8L532 1195.7L534 1195.7L536 1195.6L538 1195.5L540 1195.4L542 1195.3L544 1195.2L546 1195.1L548 1195.1L550 1195L552 1194.9L554 1194.8L556 1194.7L558 1194.7L560 1194.6L562 1194.5L564 1194.4L566 1194.4L568 1194.3L570 1194.2L572 1194.1L574 1194.1L576 1194L578 1193.9L580 1193.9L582 1193.8L584 1193.7L586 1193.7L588 1193.6L590 1193.5L592 1193.5L594 1193.4L596 1193.3L598 1193.3L600 1193.2L602 1193.2L604 1193.1L606 1193L608 1193L610 1192.9L612 1192.9L614 1192.8L616 1192.8L618 1192.7L620 1192.7L622 1192.6L624 1192.5L626 1192.5L628 1192.4L630 1192.4L632 1192.3L634 1192.3L636 1192.2L638 1192.2L640 1192.1L642 1192.1L644 1192L646 1192L648 1191.9L650 1191.9L652 1191.9L654 1191.8L656 1191.8L658 1191.7L660 1191.7L662 1191.6L664 1191.6L666 1191.5L668 1191.5L670 1191.5L672 1191.4L674 1191.4L676 1191.3L678 1191.3L680 1191.3L682 1191.2L684 1191.2L686 1191.1L688 1191.1L690 1191.1L692 1191L694 1191L696 1190.9L698 1190.9L700 1190.9L702 1190.8L704 1190.8L706 1190.8L708 1190.7L710 1190.7L712 1190.6L714 1190.6L716 1190.6L718 1190.5L720 1190.5L722 1190.5L724 1190.4L726 1190.4L728 1190.4L730 1190.3L732 1190.3L734 1190.3L736 1190.2L738 1190.2L740 1190.2L742 1190.1L744 1190.1L746 1190.1L748 1190L750 1190L752 1190L754 1189.9L756 1189.9L758 1189.9L760 1189.8L762 1189.8L764 1189.8L766 1189.8L768 1189.7L770 1189.7L772 1189.7L774 1189.6L776 1189.6L778 1189.6L780 1189.5L782 1189.5L784 1189.5L786 1189.5L788 1189.4L790 1189.4L792 1189.4L794 1189.3L796 1189.3L798 1189.3L800 1189.3L802 1189.2L804 1189.2L806 1189.2L808 1189.1L810 1189.1L812 1189.1L814 1189.1L816 1189L818 1189L820 1189L822 1188.9L824 1188.9L826 1188.9L828 1188.9L830 1188.8L832 1188.8L834 1188.8L836 1188.7L838 1188.7L840 1188.7L842 1188.7L844 1188.6L846 1188.6L848 1188.6L850 1188.5L852 1188.5L854 1188.5L856 1188.5L858 1188.4L860 1188.4L862 1188.4L864 1188.4L866 1188.3L868 1188.3L870 1188.3L872 1188.2L874 1188.2L876 1188.2L878 1188.2L880 1188.1L882 1188.1L884 1188.1L886 1188L888 1188L890 1188L892 1188L894 1187.9L896 1187.9L898 1187.9L900 1187.9L902 1187.8L904 1187.8L906 1187.8L908 1187.7L910 1187.7L912 1187.7L914 1187.7L916 1187.6L918 1187.6L920 1187.6L922 1187.5L924 1187.5L926 1187.5L928 1187.5L930 1187.4L932 1187.4L934 1187.4L936 1187.3L938 1187.3L940 1187.3L942 1187.3L944 1187.2L946 1187.2L948 1187.2L950 1187.1L952 1187.1L954 1187.1L956 1187L958 1187L960 1187L962 1187L964 1186.9L966 1186.9L968 1186.9L970 1186.8L972 1186.8L972.4 1186.8" fill="none" stroke="#468CF0" stroke-width="4.4" stroke-linejoin="round" stroke-linecap="butt"/>
<path d="M257 1275.5L257 1275.5L257.1 1275.3L257.2 1275L257.4 1274.6L257.7 1274.1L257.9 1273.4L258.3 1272.6L258.7 1271.7L259.1 1270.7L259.6 1269.6L260.2 1268.4L260.8 1267.1L261.4 1265.8L262.2 1264.3L262.9 1262.7L263.7 1261L264.6 1259.3L265.5 1257.5L266.5 1255.6L267.5 1253.6L268.6 1251.6L269.7 1249.5L270.9 1247.3L272.1 1245.1L273.4 1242.8L274.8 1240.5L276.2 1238.1L277.6 1235.7L279.1 1233.2L280.7 1230.7L282.3 1228.2L283.9 1225.6L285.6 1223.1L287.4 1220.4L289.2 1217.8L291.1 1215.1L293 1212.5L295 1209.8L297 1207.1L298 1205.8L300 1203.2L302 1200.7L304 1198.2L306 1195.8L308 1193.5L310 1191.2L312 1189L314 1186.8L316 1184.7L318 1182.6L320 1180.6L322 1178.6L324 1176.7L326 1174.8L328 1172.9L330 1171.2L332 1169.4L334 1167.7L336 1166.1L338 1164.4L340 1162.9L342 1161.3L344 1159.9L346 1158.4L348 1157L350 1155.7L352 1154.3L354 1153.1L356 1151.8L358 1150.6L360 1149.5L362 1148.3L364 1147.3L366 1146.2L368 1145.2L370 1144.2L372 1143.3L374 1142.4L376 1141.5L378 1140.7L380 1139.9L382 1139.1L384 1138.4L386 1137.7L388 1137L390 1136.4L392 1135.7L394 1135.1L396 1134.6L398 1134L400 1133.5L402 1133L404 1132.5L406 1132L408 1131.5L410 1131.1L412 1130.7L414 1130.2L416 1129.8L418 1129.5L420 1129.1L422 1128.7L424 1128.4L426 1128L428 1127.7L430 1127.4L432 1127.1L434 1126.8L436 1126.5L438 1126.2L440 1125.9L442 1125.6L444 1125.4L446 1125.1L448 1124.8L450 1124.6L452 1124.3L454 1124.1L456 1123.8L458 1123.6L460 1123.3L462 1123.1L464 1122.9L466 1122.6L468 1122.4L470 1122.2L472 1122L474 1121.7L476 1121.5L478 1121.3L480 1121.1L482 1120.9L484 1120.7L486 1120.5L488 1120.3L490 1120.1L492 1119.9L494 1119.7L496 1119.5L498 1119.3L500 1119.1L502 1118.9L504 1118.7L506 1118.5L508 1118.4L510 1118.2L512 1118L514 1117.8L516 1117.7L518 1117.5L520 1117.3L522 1117.2L524 1117L526 1116.8L528 1116.7L530 1116.5L532 1116.3L534 1116.2L536 1116L538 1115.9L540 1115.7L542 1115.6L544 1115.4L546 1115.3L548 1115.1L550 1115L552 1114.8L554 1114.7L556 1114.5L558 1114.4L560 1114.3L562 1114.1L564 1114L566 1113.9L568 1113.7L570 1113.6L572 1113.5L574 1113.3L576 1113.2L578 1113.1L580 1112.9L582 1112.8L584 1112.7L586 1112.6L588 1112.4L590 1112.3L592 1112.2L594 1112.1L596 1112L598 1111.8L600 1111.7L602 1111.6L604 1111.5L606 1111.4L608 1111.3L610 1111.2L612 1111L614 1110.9L616 1110.8L618 1110.7L620 1110.6L622 1110.5L624 1110.4L626 1110.3L628 1110.2L630 1110.1L632 1110L634 1109.9L636 1109.8L638 1109.7L640 1109.6L642 1109.5L644 1109.4L646 1109.3L648 1109.2L650 1109.1L652 1109L654 1108.9L656 1108.8L658 1108.7L660 1108.6L662 1108.5L664 1108.4L666 1108.3L668 1108.3L670 1108.2L672 1108.1L674 1108L676 1107.9L678 1107.8L680 1107.7L682 1107.6L684 1107.6L686 1107.5L688 1107.4L690 1107.3L692 1107.2L694 1107.1L696 1107.1L698 1107L700 1106.9L702 1106.8L704 1106.7L706 1106.7L708 1106.6L710 1106.5L712 1106.4L714 1106.4L716 1106.3L718 1106.2L720 1106.1L722 1106.1L724 1106L726 1105.9L728 1105.8L730 1105.8L732 1105.7L734 1105.6L736 1105.5L738 1105.5L740 1105.4L742 1105.3L744 1105.3L746 1105.2L748 1105.1L750 1105.1L752 1105L754 1104.9L756 1104.9L758 1104.8L760 1104.7L762 1104.7L764 1104.6L766 1104.5L768 1104.5L770 1104.4L772 1104.3L774 1104.3L776 1104.2L778 1104.1L780 1104.1L782 1104L784 1103.9L786 1103.9L788 1103.8L790 1103.8L792 1103.7L794 1103.6L796 1103.6L798 1103.5L800 1103.5L802 1103.4L804 1103.3L806 1103.3L808 1103.2L810 1103.2L812 1103.1L814 1103.1L816 1103L818 1102.9L820 1102.9L822 1102.8L824 1102.8L826 1102.7L828 1102.7L830 1102.6L832 1102.6L834 1102.5L836 1102.4L838 1102.4L840 1102.3L842 1102.3L844 1102.2L846 1102.2L848 1102.1L850 1102.1L852 1102L854 1102L856 1101.9L858 1101.9L860 1101.8L862 1101.8L864 1101.7L866 1101.7L868 1101.6L870 1101.6L872 1101.5L874 1101.5L876 1101.4L878 1101.4L880 1101.3L882 1101.3L884 1101.2L886 1101.2L888 1101.1L890 1101.1L892 1101L894 1101L896 1100.9L898 1100.9L900 1100.8L902 1100.8L904 1100.7L906 1100.7L908 1100.7L910 1100.6L912 1100.6L914 1100.5L916 1100.5L918 1100.4L920 1100.4L922 1100.3L924 1100.3L926 1100.2L928 1100.2L930 1100.2L932 1100.1L934 1100.1L936 1100L938 1100L940 1099.9L942 1099.9L944 1099.8L946 1099.8L948 1099.8L950 1099.7L952 1099.7L954 1099.6L956 1099.6L958 1099.5L960 1099.5L962 1099.5L964 1099.4L966 1099.4L968 1099.3" fill="none" stroke="#468CF0" stroke-width="4.4" stroke-linejoin="round" stroke-linecap="butt"/>
<circle cx="257" cy="1275.5" r="8.6" fill="#fff"/>
<circle cx="257" cy="1275.5" r="5.5" fill="#468CF0"/>
<circle cx="296.3" cy="1208" r="8.6" fill="#fff"/>
<circle cx="296.3" cy="1208" r="5.5" fill="#468CF0"/>
<circle cx="335.6" cy="1166.4" r="8.6" fill="#fff"/>
<circle cx="335.6" cy="1166.4" r="5.5" fill="#468CF0"/>
<circle cx="374.9" cy="1142" r="8.6" fill="#fff"/>
<circle cx="374.9" cy="1142" r="5.5" fill="#468CF0"/>
<circle cx="414.2" cy="1130.2" r="8.6" fill="#fff"/>
<circle cx="414.2" cy="1130.2" r="5.5" fill="#468CF0"/>
<circle cx="453.5" cy="1124.1" r="8.6" fill="#fff"/>
<circle cx="453.5" cy="1124.1" r="5.5" fill="#468CF0"/>
<circle cx="492.8" cy="1119.8" r="8.6" fill="#fff"/>
<circle cx="492.8" cy="1119.8" r="5.5" fill="#468CF0"/>
<circle cx="532.1" cy="1116.3" r="8.6" fill="#fff"/>
<circle cx="532.1" cy="1116.3" r="5.5" fill="#468CF0"/>
<circle cx="571.4" cy="1113.5" r="8.6" fill="#fff"/>
<circle cx="571.4" cy="1113.5" r="5.5" fill="#468CF0"/>
<circle cx="610.7" cy="1111.1" r="8.6" fill="#fff"/>
<circle cx="610.7" cy="1111.1" r="5.5" fill="#468CF0"/>
<circle cx="650" cy="1109.1" r="8.6" fill="#fff"/>
<circle cx="650" cy="1109.1" r="5.5" fill="#468CF0"/>
<circle cx="689.3" cy="1107.3" r="8.6" fill="#fff"/>
<circle cx="689.3" cy="1107.3" r="5.5" fill="#468CF0"/>
<circle cx="728.6" cy="1105.8" r="8.6" fill="#fff"/>
<circle cx="728.6" cy="1105.8" r="5.5" fill="#468CF0"/>
<circle cx="767.9" cy="1104.5" r="8.6" fill="#fff"/>
<circle cx="767.9" cy="1104.5" r="5.5" fill="#468CF0"/>
<circle cx="807.2" cy="1103.3" r="8.6" fill="#fff"/>
<circle cx="807.2" cy="1103.3" r="5.5" fill="#468CF0"/>
<circle cx="846.5" cy="1102.2" r="8.6" fill="#fff"/>
<circle cx="846.5" cy="1102.2" r="5.5" fill="#468CF0"/>
<circle cx="885.8" cy="1101.2" r="8.6" fill="#fff"/>
<circle cx="885.8" cy="1101.2" r="5.5" fill="#468CF0"/>
<circle cx="925.1" cy="1100.3" r="8.6" fill="#fff"/>
<circle cx="925.1" cy="1100.3" r="5.5" fill="#468CF0"/>
<circle cx="964.4" cy="1099.4" r="8.6" fill="#fff"/>
<circle cx="964.4" cy="1099.4" r="5.5" fill="#468CF0"/>
<line x1="824.3" y1="352.6" x2="878.2" y2="352.6" stroke="#F01A10" stroke-width="4.4" stroke-linecap="round"/>
<text xml:space="preserve" transform="translate(902.4 360.3) scale(1.0601 1.035)" x="0" y="0" text-rendering="geometricPrecision" font-size="22.0">Katt</text>
<line x1="824.3" y1="389.7" x2="878.2" y2="389.7" stroke="#000000" stroke-width="4.4" stroke-linecap="round"/>
<text xml:space="preserve" transform="translate(902.7 397.4) scale(0.8614 1.035)" x="0" y="0" text-rendering="geometricPrecision" font-size="22.0">DS</text>
<line x1="824.3" y1="426.8" x2="878.2" y2="426.8" stroke="#4B9B69" stroke-width="4.4" stroke-linecap="round"/>
<text xml:space="preserve" transform="translate(902.7 434.5) scale(0.8756 1.035)" x="0" y="0" text-rendering="geometricPrecision" font-size="22.0">BP</text>
<circle cx="828.3" cy="461.4" r="2.5" fill="#000000"/>
<circle cx="851.3" cy="461.4" r="2.5" fill="#000000"/>
<circle cx="874.3" cy="461.4" r="2.5" fill="#000000"/>
<line x1="834.8" y1="461.4" x2="844.8" y2="461.4" stroke="#000000" stroke-width="3.6" stroke-linecap="butt"/>
<line x1="857.8" y1="461.4" x2="867.8" y2="461.4" stroke="#000000" stroke-width="3.6" stroke-linecap="butt"/>
<text xml:space="preserve" transform="translate(902.8 469.1) scale(0.8518 1.035)" x="0" y="0" text-rendering="geometricPrecision" font-size="22.0">BS</text>
<circle cx="828.3" cy="492.2" r="3.0" fill="#F01A10"/>
<circle cx="851.3" cy="492.2" r="3.0" fill="#F01A10"/>
<circle cx="874.3" cy="492.2" r="3.0" fill="#F01A10"/>
<line x1="834.8" y1="492.2" x2="844.8" y2="492.2" stroke="#F01A10" stroke-width="3.6" stroke-linecap="butt"/>
<line x1="857.8" y1="492.2" x2="867.8" y2="492.2" stroke="#F01A10" stroke-width="3.6" stroke-linecap="butt"/>
<text xml:space="preserve" transform="translate(902.6 499.9) scale(0.9173 1.035)" x="0" y="0" text-rendering="geometricPrecision" font-size="22.0">BB</text>
<line x1="824.3" y1="526.6" x2="878.2" y2="526.6" stroke="#468CF0" stroke-width="4.4" stroke-linecap="round"/>
<text xml:space="preserve" transform="translate(902.7 534.3) scale(0.9349 1.035)" x="0" y="0" text-rendering="geometricPrecision" font-size="22.0">GoR</text>
<circle cx="828.3" cy="560.3" r="2.5" fill="#468CF0"/>
<circle cx="851.3" cy="560.3" r="2.5" fill="#468CF0"/>
<circle cx="874.3" cy="560.3" r="2.5" fill="#468CF0"/>
<line x1="834.8" y1="560.3" x2="844.8" y2="560.3" stroke="#468CF0" stroke-width="3.6" stroke-linecap="butt"/>
<line x1="857.8" y1="560.3" x2="867.8" y2="560.3" stroke="#468CF0" stroke-width="3.6" stroke-linecap="butt"/>
<text xml:space="preserve" transform="translate(902.7 568) scale(0.9363 1.035)" x="0" y="0" text-rendering="geometricPrecision" font-size="22.0">GoF</text>
<line x1="268" y1="720.2" x2="321.9" y2="720.2" stroke="#F01A10" stroke-width="4.4" stroke-linecap="round"/>
<text xml:space="preserve" transform="translate(345.9 727.9) scale(1.0601 1.035)" x="0" y="0" text-rendering="geometricPrecision" font-size="22.0">Katt</text>
<line x1="268" y1="757.4" x2="321.9" y2="757.4" stroke="#000000" stroke-width="4.4" stroke-linecap="round"/>
<text xml:space="preserve" transform="translate(346.2 765.1) scale(0.8614 1.035)" x="0" y="0" text-rendering="geometricPrecision" font-size="22.0">DS</text>
<line x1="268" y1="794.8" x2="321.9" y2="794.8" stroke="#4B9B69" stroke-width="4.4" stroke-linecap="round"/>
<text xml:space="preserve" transform="translate(346.2 802.5) scale(0.8756 1.035)" x="0" y="0" text-rendering="geometricPrecision" font-size="22.0">BP</text>
<circle cx="272" cy="829.2" r="2.5" fill="#000000"/>
<circle cx="295" cy="829.2" r="2.5" fill="#000000"/>
<circle cx="318" cy="829.2" r="2.5" fill="#000000"/>
<line x1="278.5" y1="829.2" x2="288.5" y2="829.2" stroke="#000000" stroke-width="3.6" stroke-linecap="butt"/>
<line x1="301.5" y1="829.2" x2="311.5" y2="829.2" stroke="#000000" stroke-width="3.6" stroke-linecap="butt"/>
<text xml:space="preserve" transform="translate(346.3 836.9) scale(0.8518 1.035)" x="0" y="0" text-rendering="geometricPrecision" font-size="22.0">BS</text>
<circle cx="272" cy="860.7" r="3.0" fill="#F01A10"/>
<circle cx="295" cy="860.7" r="3.0" fill="#F01A10"/>
<circle cx="318" cy="860.7" r="3.0" fill="#F01A10"/>
<line x1="278.5" y1="860.7" x2="288.5" y2="860.7" stroke="#F01A10" stroke-width="3.6" stroke-linecap="butt"/>
<line x1="301.5" y1="860.7" x2="311.5" y2="860.7" stroke="#F01A10" stroke-width="3.6" stroke-linecap="butt"/>
<text xml:space="preserve" transform="translate(346.1 868.4) scale(0.9173 1.035)" x="0" y="0" text-rendering="geometricPrecision" font-size="22.0">BB</text>
<line x1="268" y1="894.4" x2="321.9" y2="894.4" stroke="#468CF0" stroke-width="4.4" stroke-linecap="round"/>
<text xml:space="preserve" transform="translate(346.2 902.1) scale(0.9349 1.035)" x="0" y="0" text-rendering="geometricPrecision" font-size="22.0">GoR</text>
<circle cx="272" cy="929" r="2.5" fill="#468CF0"/>
<circle cx="295" cy="929" r="2.5" fill="#468CF0"/>
<circle cx="318" cy="929" r="2.5" fill="#468CF0"/>
<line x1="278.5" y1="929" x2="288.5" y2="929" stroke="#468CF0" stroke-width="3.6" stroke-linecap="butt"/>
<line x1="301.5" y1="929" x2="311.5" y2="929" stroke="#468CF0" stroke-width="3.6" stroke-linecap="butt"/>
<text xml:space="preserve" transform="translate(346.2 936.7) scale(0.9363 1.035)" x="0" y="0" text-rendering="geometricPrecision" font-size="22.0">GoF</text>
<text x="5.6" y="35.8" font-size="46.5" text-anchor="start" >(a)</text>
<text x="-0.4" y="715.3" font-size="46.5" text-anchor="start" >(b)</text>
<g transform="translate(58.3,476) rotate(-90)">
<text xml:space="preserve" x="0" y="0" font-size="50">T</text>
<text xml:space="preserve" x="26.8" y="0" font-size="50">A</text>
<text xml:space="preserve" x="59" y="0" font-size="50"> (µmol kg</text>
<text xml:space="preserve" x="273" y="-16" font-size="40">-</text>
<path d="M763 0L583 0L583 1147Q518 1085 412.5 1023Q307 961 223 930L223 1104Q374 1175 472.5 1263Q571 1351 627 1409L763 1409Z" transform="translate(286.3 -16) scale(0.01953 -0.01953)"/>
<text xml:space="preserve" x="308.6" y="0" font-size="50">)</text>
</g>
<g transform="translate(49.8,1233) rotate(-90)">
<text xml:space="preserve" x="0" y="0" font-size="50">FCO</text>
<text xml:space="preserve" x="105.5" y="15" font-size="40">2</text>
<text xml:space="preserve" x="127.8" y="0" font-size="50"> (mmol m</text>
<text xml:space="preserve" x="336.1" y="-16" font-size="40">-2</text>
<text xml:space="preserve" x="371.7" y="0" font-size="50"> yr</text>
<text xml:space="preserve" x="427.2" y="-16" font-size="40">-</text>
<path d="M763 0L583 0L583 1147Q518 1085 412.5 1023Q307 961 223 930L223 1104Q374 1175 472.5 1263Q571 1351 627 1409L763 1409Z" transform="translate(440.5 -16) scale(0.01953 -0.01953)"/>
<text xml:space="preserve" x="462.8" y="0" font-size="50">)</text>
</g>
<text x="512" y="1441.6" font-size="50.5" text-anchor="start" letter-spacing="0.4">Time (yr)</text>
</svg>
</body></html>
